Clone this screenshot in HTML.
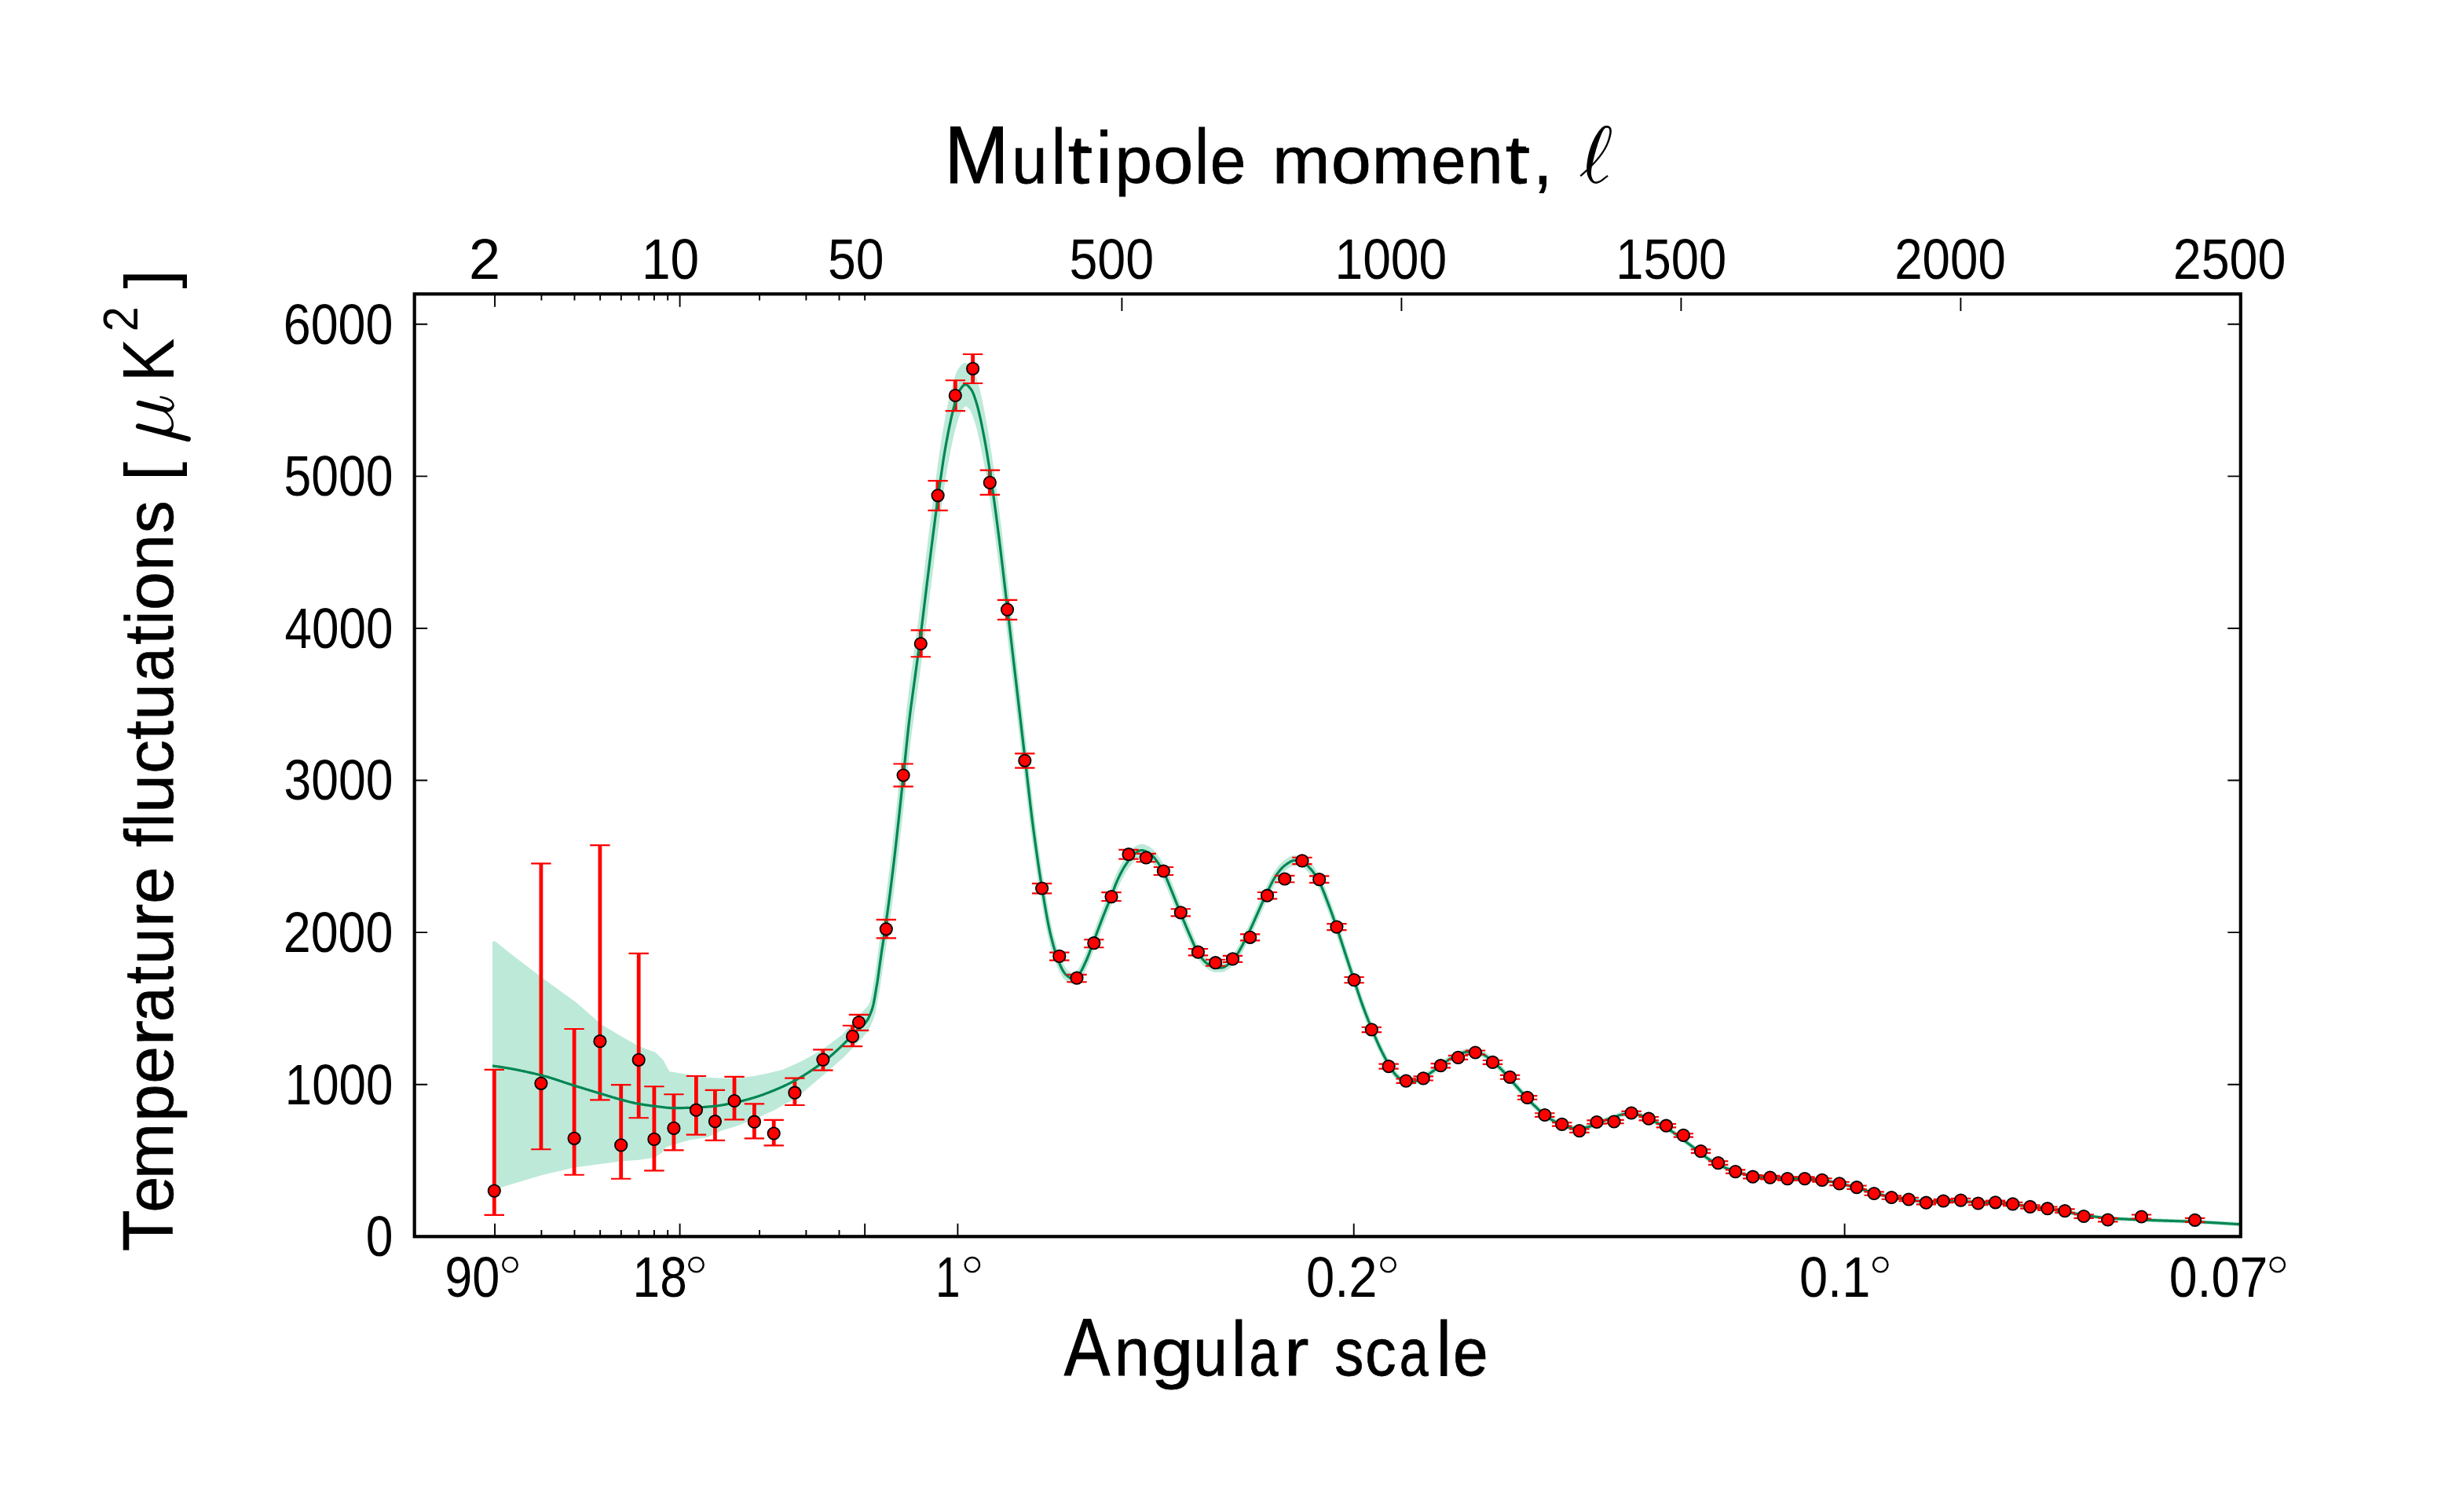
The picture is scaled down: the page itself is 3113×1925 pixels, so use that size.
<!DOCTYPE html>
<html><head><meta charset="utf-8"><title>CMB power spectrum</title>
<style>html,body{margin:0;padding:0;background:#fff}body{width:3113px;height:1925px;overflow:hidden}svg{display:block}text{font-family:"Liberation Sans",sans-serif}</style></head>
<body>
<svg width="3113" height="1925" viewBox="0 0 3113 1925">
<rect width="3113" height="1925" fill="#fff"/>
<defs><clipPath id="pc"><rect x="527.7" y="374.3" width="2325.1" height="1200"/></clipPath></defs>
<g clip-path="url(#pc)">
<path fill="#bde9d9" stroke="#bde9d9" stroke-width="5" stroke-linejoin="round" d="M629.4 1200.7 L647.1 1215 L688.9 1247.1 L731.1 1277.5 L763.9 1306.1 L790.7 1322.1 L813.2 1334.6 L832.9 1341.8 L842 1350.5 L850.7 1366.5 L875.7 1370.4 L900 1374.3 L916 1375.1 L935.4 1375.7 L960.4 1372.5 L977 1369.3 L996.4 1364.5 L1022 1353.2 L1047.9 1338.8 L1073.6 1319.5 L1091.7 1299.3 L1103 1286.5 L1108 1281.27 L1109 1278.66 L1110 1275.68 L1111 1272.26 L1112 1268.11 L1113 1262.8 L1114 1256.96 L1115 1250.45 L1116 1244.22 L1117 1238.28 L1118 1231.31 L1119 1223.4 L1120 1215.83 L1121 1208.36 L1122 1201.15 L1123 1194.2 L1124 1187.6 L1125 1180.86 L1126 1173.9 L1127 1166.82 L1128 1159.68 L1129 1152.54 L1130 1145.33 L1131 1137.95 L1132 1130.3 L1133 1122.36 L1134 1114.26 L1135 1106.07 L1136 1097.81 L1137 1089.5 L1138 1081 L1139 1072.27 L1140 1063.37 L1141 1054.33 L1142 1045.17 L1143 1035.9 L1144 1026.55 L1145 1017.13 L1146 1007.66 L1147 998.15 L1148 988.63 L1149 979.11 L1150 969.61 L1151 960 L1152 950.13 L1153 940.14 L1154 930.16 L1155 920.33 L1156 910.78 L1157 901.63 L1158 893.02 L1159 884.85 L1160 877 L1161 869.39 L1162 861.94 L1163 854.59 L1164 847.25 L1165 839.82 L1166 832.3 L1167 824.85 L1168 817.43 L1169 810 L1170 802.48 L1171 794.83 L1172 786.99 L1173 778.98 L1174 770.84 L1175 762.59 L1176 754.28 L1177 745.92 L1178 737.55 L1179 729.21 L1180 720.92 L1181 712.71 L1182 704.61 L1183 696.51 L1184 688.4 L1185 680.28 L1186 672.18 L1187 664.12 L1188 656.12 L1189 648.2 L1190 640.39 L1191 632.7 L1192 625.15 L1193 617.76 L1194 610.4 L1195 603.03 L1196 595.69 L1197 588.41 L1198 581.24 L1199 574.21 L1200 567.36 L1201 560.72 L1202 554.33 L1203 548.23 L1204 542.46 L1205 536.97 L1206 531.59 L1207 526.33 L1208 521.22 L1209 516.28 L1210 511.51 L1211 506.93 L1212 502.57 L1213 498.44 L1214 494.55 L1215 490.93 L1216 487.52 L1217 484.16 L1218 480.93 L1219 477.92 L1220 475.22 L1221 472.93 L1222 471.14 L1223 469.74 L1224 468.38 L1225 467.14 L1226 466.05 L1227 465.2 L1228 464.65 L1229 464.46 L1230 464.66 L1231 465.19 L1232 465.99 L1233 467.02 L1234 468.23 L1235 469.57 L1236 470.98 L1237 472.47 L1238 474.38 L1239 476.74 L1240 479.46 L1241 482.47 L1242 485.68 L1243 489.01 L1244 492.45 L1245 496.22 L1246 500.33 L1247 504.73 L1248 509.37 L1249 514.22 L1250 519.24 L1251 524.39 L1252 529.62 L1253 534.92 L1254 540.45 L1255 546.22 L1256 552.2 L1257 558.39 L1258 564.73 L1259 571.22 L1260 577.83 L1261 584.54 L1262 591.4 L1263 598.44 L1264 605.66 L1265 613.04 L1266 620.56 L1267 628.2 L1268 635.95 L1269 643.8 L1270 651.72 L1271 659.72 L1272 667.88 L1273 676.18 L1274 684.62 L1275 693.17 L1276 701.81 L1277 710.51 L1278 719.27 L1279 728.06 L1280 736.86 L1281 745.65 L1282 754.42 L1283 763.13 L1284 771.8 L1285 780.5 L1286 789.22 L1287 797.96 L1288 806.71 L1289 815.46 L1290 824.22 L1291 832.97 L1292 841.72 L1293 850.46 L1294 859.2 L1295 867.96 L1296 876.71 L1297 885.47 L1298 894.23 L1299 902.99 L1300 911.74 L1301 920.48 L1302 929.21 L1303 937.92 L1304 946.62 L1305 955.3 L1306 964.02 L1307 972.84 L1308 981.71 L1309 990.6 L1310 999.45 L1311 1008.23 L1312 1016.88 L1313 1025.36 L1314 1033.64 L1315 1041.65 L1316 1049.4 L1317 1057.02 L1318 1064.52 L1319 1071.9 L1320 1079.16 L1321 1086.28 L1322 1093.26 L1323 1100.09 L1324 1106.78 L1325 1113.3 L1326 1119.66 L1327 1125.87 L1328 1132.04 L1329 1138.17 L1330 1144.23 L1331 1150.19 L1332 1156 L1333 1161.64 L1334 1167.08 L1335 1172.28 L1336 1177.2 L1337 1181.81 L1338 1186.08 L1339 1190.13 L1340 1194.06 L1341 1197.85 L1342 1201.5 L1343 1204.99 L1344 1208.31 L1345 1211.47 L1346 1214.43 L1347 1217.21 L1348 1219.77 L1349 1222.13 L1350 1224.39 L1351 1226.58 L1352 1228.66 L1353 1230.62 L1354 1232.4 L1355 1233.98 L1356 1235.34 L1357 1236.42 L1358 1237.33 L1359 1238.22 L1360 1239.05 L1361 1239.81 L1362 1240.46 L1363 1240.98 L1364 1241.33 L1365 1241.5 L1366 1241.45 L1367 1241.19 L1368 1240.75 L1369 1240.17 L1370 1239.46 L1371 1238.67 L1372 1237.81 L1373 1236.93 L1374 1235.93 L1375 1234.65 L1376 1233.12 L1377 1231.38 L1378 1229.46 L1379 1227.41 L1380 1225.27 L1381 1223.07 L1382 1220.86 L1383 1218.68 L1384 1216.42 L1385 1214 L1386 1211.46 L1387 1208.82 L1388 1206.1 L1389 1203.35 L1390 1200.58 L1391 1197.81 L1392 1195.09 L1393 1192.43 L1394 1189.78 L1395 1187.12 L1396 1184.46 L1397 1181.78 L1398 1179.11 L1399 1176.44 L1400 1173.78 L1401 1171.13 L1402 1168.49 L1403 1165.87 L1404 1163.27 L1405 1160.7 L1406 1158.16 L1407 1155.63 L1408 1153.11 L1409 1150.61 L1410 1148.1 L1411 1145.6 L1412 1143.08 L1413 1140.56 L1414 1138.01 L1415 1135.44 L1416 1132.81 L1417 1130.1 L1418 1127.36 L1419 1124.64 L1420 1122 L1421 1119.48 L1422 1117.13 L1423 1114.89 L1424 1112.7 L1425 1110.58 L1426 1108.52 L1427 1106.53 L1428 1104.6 L1429 1102.74 L1430 1100.94 L1431 1099.21 L1432 1097.55 L1433 1095.95 L1434 1094.42 L1435 1092.95 L1436 1091.54 L1437 1090.19 L1438 1088.86 L1439 1087.51 L1440 1086.18 L1441 1084.9 L1442 1083.7 L1443 1082.62 L1444 1081.69 L1445 1080.95 L1446 1080.31 L1447 1079.67 L1448 1079.07 L1449 1078.52 L1450 1078.03 L1451 1077.64 L1452 1077.35 L1453 1077.19 L1454 1077.18 L1455 1077.3 L1456 1077.51 L1457 1077.81 L1458 1078.17 L1459 1078.58 L1460 1079.02 L1461 1079.46 L1462 1079.97 L1463 1080.61 L1464 1081.34 L1465 1082.16 L1466 1083.03 L1467 1083.95 L1468 1084.96 L1469 1086.09 L1470 1087.31 L1471 1088.61 L1472 1089.97 L1473 1091.39 L1474 1092.83 L1475 1094.28 L1476 1095.79 L1477 1097.35 L1478 1098.99 L1479 1100.7 L1480 1102.48 L1481 1104.35 L1482 1106.32 L1483 1108.42 L1484 1110.64 L1485 1112.97 L1486 1115.37 L1487 1117.84 L1488 1120.35 L1489 1122.89 L1490 1125.43 L1491 1127.95 L1492 1130.44 L1493 1132.9 L1494 1135.39 L1495 1137.9 L1496 1140.42 L1497 1142.96 L1498 1145.5 L1499 1148.04 L1500 1150.58 L1501 1153.11 L1502 1155.62 L1503 1158.1 L1504 1160.57 L1505 1163.04 L1506 1165.5 L1507 1167.97 L1508 1170.43 L1509 1172.87 L1510 1175.3 L1511 1177.7 L1512 1180.09 L1513 1182.44 L1514 1184.76 L1515 1187.05 L1516 1189.35 L1517 1191.69 L1518 1194.04 L1519 1196.37 L1520 1198.67 L1521 1200.9 L1522 1203.04 L1523 1205.08 L1524 1206.98 L1525 1208.73 L1526 1210.32 L1527 1211.87 L1528 1213.37 L1529 1214.81 L1530 1216.19 L1531 1217.5 L1532 1218.72 L1533 1219.84 L1534 1220.87 L1535 1221.79 L1536 1222.59 L1537 1223.37 L1538 1224.15 L1539 1224.91 L1540 1225.64 L1541 1226.34 L1542 1226.97 L1543 1227.54 L1544 1228.03 L1545 1228.42 L1546 1228.69 L1547 1228.85 L1548 1228.88 L1549 1228.89 L1550 1228.89 L1551 1228.9 L1552 1228.9 L1553 1228.91 L1554 1228.91 L1555 1228.92 L1556 1228.84 L1557 1228.61 L1558 1228.26 L1559 1227.8 L1560 1227.24 L1561 1226.62 L1562 1225.95 L1563 1225.25 L1564 1224.54 L1565 1223.83 L1566 1223.01 L1567 1222.07 L1568 1221.02 L1569 1219.88 L1570 1218.66 L1571 1217.38 L1572 1216.05 L1573 1214.67 L1574 1213.28 L1575 1211.86 L1576 1210.35 L1577 1208.77 L1578 1207.11 L1579 1205.39 L1580 1203.61 L1581 1201.77 L1582 1199.89 L1583 1197.96 L1584 1195.99 L1585 1193.99 L1586 1191.97 L1587 1189.93 L1588 1187.87 L1589 1185.81 L1590 1183.75 L1591 1181.69 L1592 1179.63 L1593 1177.53 L1594 1175.37 L1595 1173.17 L1596 1170.94 L1597 1168.67 L1598 1166.39 L1599 1164.1 L1600 1161.81 L1601 1159.53 L1602 1157.27 L1603 1155.03 L1604 1152.81 L1605 1150.57 L1606 1148.31 L1607 1146.05 L1608 1143.8 L1609 1141.56 L1610 1139.35 L1611 1137.17 L1612 1135.04 L1613 1132.96 L1614 1130.93 L1615 1128.9 L1616 1126.86 L1617 1124.83 L1618 1122.82 L1619 1120.84 L1620 1118.91 L1621 1117.03 L1622 1115.22 L1623 1113.49 L1624 1111.85 L1625 1110.32 L1626 1108.9 L1627 1107.54 L1628 1106.21 L1629 1104.92 L1630 1103.69 L1631 1102.52 L1632 1101.41 L1633 1100.39 L1634 1099.45 L1635 1098.61 L1636 1097.86 L1637 1097.13 L1638 1096.39 L1639 1095.66 L1640 1094.96 L1641 1094.29 L1642 1093.67 L1643 1093.1 L1644 1092.61 L1645 1092.19 L1646 1091.88 L1647 1091.67 L1648 1091.59 L1649 1091.6 L1650 1091.66 L1651 1091.77 L1652 1091.9 L1653 1092.07 L1654 1092.27 L1655 1092.49 L1656 1092.74 L1657 1093 L1658 1093.27 L1659 1093.65 L1660 1094.18 L1661 1094.85 L1662 1095.63 L1663 1096.51 L1664 1097.48 L1665 1098.51 L1666 1099.59 L1667 1100.71 L1668 1101.84 L1669 1102.97 L1670 1104.12 L1671 1105.37 L1672 1106.7 L1673 1108.11 L1674 1109.6 L1675 1111.16 L1676 1112.79 L1677 1114.48 L1678 1116.24 L1679 1118.05 L1680 1119.93 L1681 1121.93 L1682 1124.08 L1683 1126.34 L1684 1128.72 L1685 1131.18 L1686 1133.72 L1687 1136.32 L1688 1138.96 L1689 1141.62 L1690 1144.29 L1691 1146.95 L1692 1149.59 L1693 1152.27 L1694 1155 L1695 1157.77 L1696 1160.59 L1697 1163.43 L1698 1166.3 L1699 1169.2 L1700 1172.12 L1701 1175.05 L1702 1177.99 L1703 1180.96 L1704 1183.97 L1705 1187.01 L1706 1190.07 L1707 1193.16 L1708 1196.25 L1709 1199.36 L1710 1202.46 L1711 1205.56 L1712 1208.64 L1713 1211.71 L1714 1214.79 L1715 1217.87 L1716 1220.95 L1717 1224.03 L1718 1227.12 L1719 1230.2 L1720 1233.27 L1721 1236.34 L1722 1239.4 L1723 1242.44 L1724 1245.48 L1725 1248.51 L1726 1251.55 L1727 1254.61 L1728 1257.66 L1729 1260.7 L1730 1263.72 L1731 1266.71 L1732 1269.67 L1733 1272.59 L1734 1275.45 L1735 1278.25 L1736 1280.99 L1737 1283.7 L1738 1286.37 L1739 1289 L1740 1291.6 L1741 1294.17 L1742 1296.72 L1743 1299.23 L1744 1301.73 L1745 1304.2 L1746 1306.65 L1747 1309.09 L1748 1311.52 L1749 1313.94 L1750 1316.34 L1751 1318.71 L1752 1321.07 L1753 1323.38 L1754 1325.67 L1755 1327.91 L1756 1330.1 L1757 1332.24 L1758 1334.33 L1759 1336.39 L1760 1338.42 L1761 1340.42 L1762 1342.39 L1763 1344.32 L1764 1346.21 L1765 1348.05 L1766 1349.85 L1767 1351.59 L1768 1353.29 L1769 1354.96 L1770 1356.65 L1771 1358.34 L1772 1360 L1773 1361.6 L1774 1363.14 L1775 1364.57 L1776 1365.89 L1777 1367.06 L1778 1368.07 L1779 1369 L1780 1369.93 L1781 1370.85 L1782 1371.74 L1783 1372.59 L1784 1373.38 L1785 1374.1 L1786 1374.73 L1787 1375.25 L1788 1375.66 L1789 1375.93 L1790 1376.04 L1791 1376.04 L1792 1376.03 L1793 1376.01 L1794 1375.97 L1795 1375.93 L1796 1375.89 L1797 1375.83 L1798 1375.77 L1799 1375.7 L1800 1375.62 L1801 1375.47 L1802 1375.25 L1803 1374.96 L1804 1374.62 L1805 1374.22 L1806 1373.78 L1807 1373.31 L1808 1372.81 L1809 1372.3 L1810 1371.78 L1811 1371.25 L1812 1370.74 L1813 1370.22 L1814 1369.65 L1815 1369.04 L1816 1368.38 L1817 1367.7 L1818 1367 L1819 1366.28 L1820 1365.56 L1821 1364.83 L1822 1364.11 L1823 1363.41 L1824 1362.71 L1825 1362 L1826 1361.29 L1827 1360.57 L1828 1359.85 L1829 1359.13 L1830 1358.4 L1831 1357.67 L1832 1356.94 L1833 1356.21 L1834 1355.49 L1835 1354.76 L1836 1354.02 L1837 1353.26 L1838 1352.5 L1839 1351.73 L1840 1350.97 L1841 1350.22 L1842 1349.49 L1843 1348.78 L1844 1348.1 L1845 1347.45 L1846 1346.83 L1847 1346.23 L1848 1345.63 L1849 1345.05 L1850 1344.48 L1851 1343.93 L1852 1343.39 L1853 1342.88 L1854 1342.4 L1855 1341.94 L1856 1341.52 L1857 1341.11 L1858 1340.7 L1859 1340.27 L1860 1339.85 L1861 1339.43 L1862 1339.04 L1863 1338.67 L1864 1338.35 L1865 1338.09 L1866 1337.88 L1867 1337.75 L1868 1337.71 L1869 1337.71 L1870 1337.71 L1871 1337.71 L1872 1337.71 L1873 1337.72 L1874 1337.72 L1875 1337.72 L1876 1337.72 L1877 1337.72 L1878 1337.72 L1879 1337.74 L1880 1337.85 L1881 1338.05 L1882 1338.33 L1883 1338.67 L1884 1339.06 L1885 1339.5 L1886 1339.97 L1887 1340.47 L1888 1340.97 L1889 1341.47 L1890 1341.97 L1891 1342.52 L1892 1343.15 L1893 1343.83 L1894 1344.56 L1895 1345.34 L1896 1346.15 L1897 1346.98 L1898 1347.82 L1899 1348.67 L1900 1349.51 L1901 1350.35 L1902 1351.2 L1903 1352.07 L1904 1352.97 L1905 1353.88 L1906 1354.81 L1907 1355.75 L1908 1356.72 L1909 1357.7 L1910 1358.69 L1911 1359.7 L1912 1360.73 L1913 1361.79 L1914 1362.88 L1915 1363.99 L1916 1365.12 L1917 1366.26 L1918 1367.42 L1919 1368.58 L1920 1369.73 L1921 1370.88 L1922 1372.03 L1923 1373.16 L1924 1374.29 L1925 1375.42 L1926 1376.55 L1927 1377.69 L1928 1378.82 L1929 1379.96 L1930 1381.09 L1931 1382.22 L1932 1383.36 L1933 1384.49 L1934 1385.62 L1935 1386.76 L1936 1387.9 L1937 1389.05 L1938 1390.2 L1939 1391.35 L1940 1392.49 L1941 1393.62 L1942 1394.74 L1943 1395.84 L1944 1396.92 L1945 1397.99 L1946 1399.03 L1947 1400.07 L1948 1401.09 L1949 1402.11 L1950 1403.11 L1951 1404.1 L1952 1405.09 L1953 1406.06 L1954 1407.03 L1955 1407.99 L1956 1408.95 L1957 1409.91 L1958 1410.87 L1959 1411.84 L1960 1412.8 L1961 1413.75 L1962 1414.69 L1963 1415.6 L1964 1416.5 L1965 1417.36 L1966 1418.18 L1967 1418.96 L1968 1419.71 L1969 1420.44 L1970 1421.15 L1971 1421.84 L1972 1422.51 L1973 1423.16 L1974 1423.79 L1975 1424.41 L1976 1425.01 L1977 1425.6 L1978 1426.17 L1979 1426.73 L1980 1427.28 L1981 1427.82 L1982 1428.35 L1983 1428.87 L1984 1429.37 L1985 1429.86 L1986 1430.32 L1987 1430.77 L1988 1431.21 L1989 1431.62 L1990 1432.03 L1991 1432.45 L1992 1432.87 L1993 1433.28 L1994 1433.67 L1995 1434.04 L1996 1434.37 L1997 1434.66 L1998 1434.9 L1999 1435.08 L2000 1435.21 L2001 1435.33 L2002 1435.45 L2003 1435.56 L2004 1435.66 L2005 1435.76 L2006 1435.84 L2007 1435.91 L2008 1435.96 L2009 1436 L2010 1436.03 L2011 1436.03 L2012 1436 L2013 1435.91 L2014 1435.78 L2015 1435.6 L2016 1435.4 L2017 1435.18 L2018 1434.94 L2019 1434.69 L2020 1434.44 L2021 1434.21 L2022 1433.96 L2023 1433.69 L2024 1433.4 L2025 1433.1 L2026 1432.77 L2027 1432.43 L2028 1432.08 L2029 1431.72 L2030 1431.35 L2031 1430.98 L2032 1430.6 L2033 1430.22 L2034 1429.82 L2035 1429.4 L2036 1428.95 L2037 1428.49 L2038 1428.02 L2039 1427.54 L2040 1427.07 L2041 1426.61 L2042 1426.15 L2043 1425.72 L2044 1425.31 L2045 1424.93 L2046 1424.57 L2047 1424.22 L2048 1423.87 L2049 1423.54 L2050 1423.21 L2051 1422.89 L2052 1422.56 L2053 1422.24 L2054 1421.92 L2055 1421.58 L2056 1421.23 L2057 1420.86 L2058 1420.46 L2059 1420.07 L2060 1419.67 L2061 1419.29 L2062 1418.94 L2063 1418.62 L2064 1418.34 L2065 1418.12 L2066 1417.96 L2067 1417.83 L2068 1417.71 L2069 1417.59 L2070 1417.49 L2071 1417.39 L2072 1417.3 L2073 1417.22 L2074 1417.16 L2075 1417.12 L2076 1417.09 L2077 1417.08 L2078 1417.1 L2079 1417.17 L2080 1417.28 L2081 1417.43 L2082 1417.61 L2083 1417.82 L2084 1418.05 L2085 1418.28 L2086 1418.53 L2087 1418.77 L2088 1419.02 L2089 1419.29 L2090 1419.61 L2091 1419.95 L2092 1420.33 L2093 1420.72 L2094 1421.14 L2095 1421.56 L2096 1422 L2097 1422.45 L2098 1422.89 L2099 1423.33 L2100 1423.78 L2101 1424.24 L2102 1424.72 L2103 1425.21 L2104 1425.71 L2105 1426.22 L2106 1426.74 L2107 1427.27 L2108 1427.8 L2109 1428.33 L2110 1428.86 L2111 1429.39 L2112 1429.92 L2113 1430.45 L2114 1430.99 L2115 1431.54 L2116 1432.09 L2117 1432.65 L2118 1433.21 L2119 1433.78 L2120 1434.36 L2121 1434.96 L2122 1435.56 L2123 1436.17 L2124 1436.79 L2125 1437.42 L2126 1438.06 L2127 1438.71 L2128 1439.37 L2129 1440.04 L2130 1440.71 L2131 1441.4 L2132 1442.09 L2133 1442.79 L2134 1443.51 L2135 1444.24 L2136 1444.99 L2137 1445.75 L2138 1446.51 L2139 1447.28 L2140 1448.06 L2141 1448.83 L2142 1449.59 L2143 1450.36 L2144 1451.11 L2145 1451.86 L2146 1452.61 L2147 1453.36 L2148 1454.11 L2149 1454.85 L2150 1455.61 L2151 1456.36 L2152 1457.12 L2153 1457.88 L2154 1458.65 L2155 1459.43 L2156 1460.22 L2157 1461.01 L2158 1461.82 L2159 1462.62 L2160 1463.43 L2161 1464.23 L2162 1465.04 L2163 1465.83 L2164 1466.62 L2165 1467.39 L2166 1468.16 L2167 1468.93 L2168 1469.69 L2169 1470.46 L2170 1471.22 L2171 1471.97 L2172 1472.72 L2173 1473.45 L2174 1474.16 L2175 1474.86 L2176 1475.53 L2177 1476.18 L2178 1476.81 L2179 1477.44 L2180 1478.05 L2181 1478.65 L2182 1479.23 L2183 1479.8 L2184 1480.36 L2185 1480.91 L2186 1481.44 L2187 1481.95 L2188 1482.45 L2189 1482.94 L2190 1483.42 L2191 1483.88 L2192 1484.33 L2193 1484.78 L2194 1485.21 L2195 1485.64 L2196 1486.06 L2197 1486.47 L2198 1486.88 L2199 1487.29 L2200 1487.69 L2201 1488.08 L2202 1488.47 L2203 1488.86 L2204 1489.25 L2205 1489.62 L2206 1489.99 L2207 1490.34 L2208 1490.68 L2209 1491.01 L2210 1491.33 L2211 1491.65 L2212 1491.96 L2213 1492.28 L2214 1492.6 L2215 1492.91 L2216 1493.22 L2217 1493.53 L2218 1493.84 L2219 1494.13 L2220 1494.43 L2221 1494.71 L2222 1494.99 L2223 1495.25 L2224 1495.51 L2225 1495.76 L2226 1495.99 L2227 1496.21 L2228 1496.42 L2229 1496.61 L2230 1496.78 L2231 1496.94 L2232 1497.08 L2233 1497.21 L2234 1497.34 L2235 1497.46 L2236 1497.58 L2237 1497.69 L2238 1497.8 L2239 1497.9 L2240 1498 L2241 1498.1 L2242 1498.19 L2243 1498.28 L2244 1498.36 L2245 1498.45 L2246 1498.52 L2247 1498.6 L2248 1498.67 L2249 1498.75 L2250 1498.82 L2251 1498.88 L2252 1498.95 L2253 1499.01 L2254 1499.07 L2255 1499.13 L2256 1499.19 L2257 1499.25 L2258 1499.3 L2259 1499.36 L2260 1499.41 L2261 1499.46 L2262 1499.51 L2263 1499.56 L2264 1499.61 L2265 1499.65 L2266 1499.7 L2267 1499.74 L2268 1499.78 L2269 1499.82 L2270 1499.86 L2271 1499.9 L2272 1499.94 L2273 1499.97 L2274 1500 L2275 1500.04 L2276 1500.07 L2277 1500.1 L2278 1500.12 L2279 1500.15 L2280 1500.17 L2281 1500.19 L2282 1500.21 L2283 1500.23 L2284 1500.25 L2285 1500.27 L2286 1500.29 L2287 1500.31 L2288 1500.32 L2289 1500.34 L2290 1500.36 L2291 1500.38 L2292 1500.41 L2293 1500.43 L2294 1500.45 L2295 1500.48 L2296 1500.51 L2297 1500.54 L2298 1500.58 L2299 1500.62 L2300 1500.66 L2301 1500.71 L2302 1500.76 L2303 1500.82 L2304 1500.88 L2305 1500.94 L2306 1501.01 L2307 1501.08 L2308 1501.16 L2309 1501.24 L2310 1501.32 L2311 1501.4 L2312 1501.49 L2313 1501.58 L2314 1501.68 L2315 1501.77 L2316 1501.87 L2317 1501.97 L2318 1502.08 L2319 1502.18 L2320 1502.29 L2321 1502.41 L2322 1502.53 L2323 1502.67 L2324 1502.81 L2325 1502.96 L2326 1503.12 L2327 1503.29 L2328 1503.46 L2329 1503.64 L2330 1503.82 L2331 1504.01 L2332 1504.21 L2333 1504.41 L2334 1504.61 L2335 1504.82 L2336 1505.03 L2337 1505.24 L2338 1505.45 L2339 1505.66 L2340 1505.88 L2341 1506.09 L2342 1506.3 L2343 1506.52 L2344 1506.74 L2345 1506.97 L2346 1507.2 L2347 1507.44 L2348 1507.68 L2349 1507.92 L2350 1508.17 L2351 1508.43 L2352 1508.68 L2353 1508.94 L2354 1509.21 L2355 1509.47 L2356 1509.74 L2357 1510.01 L2358 1510.28 L2359 1510.55 L2360 1510.83 L2361 1511.1 L2362 1511.38 L2363 1511.66 L2364 1511.93 L2365 1512.21 L2366 1512.5 L2367 1512.79 L2368 1513.09 L2369 1513.39 L2370 1513.7 L2371 1514.01 L2372 1514.32 L2373 1514.64 L2374 1514.95 L2375 1515.27 L2376 1515.58 L2377 1515.89 L2378 1516.21 L2379 1516.51 L2380 1516.82 L2381 1517.12 L2382 1517.42 L2383 1517.71 L2384 1517.99 L2385 1518.27 L2386 1518.54 L2387 1518.8 L2388 1519.06 L2389 1519.32 L2390 1519.58 L2391 1519.84 L2392 1520.1 L2393 1520.35 L2394 1520.6 L2395 1520.85 L2396 1521.1 L2397 1521.34 L2398 1521.58 L2399 1521.81 L2400 1522.05 L2401 1522.27 L2402 1522.5 L2403 1522.72 L2404 1522.93 L2405 1523.14 L2406 1523.34 L2407 1523.54 L2408 1523.73 L2409 1523.92 L2410 1524.1 L2411 1524.29 L2412 1524.46 L2413 1524.64 L2414 1524.81 L2415 1524.98 L2416 1525.15 L2417 1525.32 L2418 1525.48 L2419 1525.64 L2420 1525.79 L2421 1525.95 L2422 1526.1 L2423 1526.24 L2424 1526.39 L2425 1526.53 L2426 1526.66 L2427 1526.8 L2428 1526.93 L2429 1527.06 L2430 1527.18 L2431 1527.3 L2432 1527.43 L2433 1527.56 L2434 1527.69 L2435 1527.83 L2436 1527.96 L2437 1528.1 L2438 1528.23 L2439 1528.36 L2440 1528.49 L2441 1528.61 L2442 1528.73 L2443 1528.84 L2444 1528.95 L2445 1529.04 L2446 1529.13 L2447 1529.21 L2448 1529.28 L2449 1529.33 L2450 1529.37 L2451 1529.4 L2452 1529.42 L2453 1529.42 L2454 1529.42 L2455 1529.42 L2456 1529.42 L2457 1529.42 L2458 1529.42 L2459 1529.42 L2460 1529.42 L2461 1529.42 L2462 1529.42 L2463 1529.42 L2464 1529.42 L2465 1529.42 L2466 1529.42 L2467 1529.42 L2468 1529.42 L2469 1529.42 L2470 1529.42 L2471 1529.42 L2472 1529.42 L2473 1529.42 L2474 1529.42 L2475 1529.42 L2476 1529.42 L2477 1529.42 L2478 1529.42 L2479 1529.42 L2480 1529.42 L2481 1529.42 L2482 1529.42 L2483 1529.42 L2484 1529.42 L2485 1529.42 L2486 1529.42 L2487 1529.42 L2488 1529.42 L2489 1529.42 L2490 1529.42 L2491 1529.42 L2492 1529.42 L2493 1529.42 L2494 1529.42 L2495 1529.42 L2496 1529.42 L2497 1529.42 L2498 1529.43 L2499 1529.45 L2500 1529.48 L2501 1529.52 L2502 1529.56 L2503 1529.61 L2504 1529.67 L2505 1529.73 L2506 1529.8 L2507 1529.86 L2508 1529.94 L2509 1530.01 L2510 1530.08 L2511 1530.15 L2512 1530.23 L2513 1530.3 L2514 1530.37 L2515 1530.43 L2516 1530.49 L2517 1530.55 L2518 1530.6 L2519 1530.64 L2520 1530.69 L2521 1530.73 L2522 1530.76 L2523 1530.8 L2524 1530.83 L2525 1530.87 L2526 1530.9 L2527 1530.93 L2528 1530.96 L2529 1530.99 L2530 1531.02 L2531 1531.06 L2532 1531.09 L2533 1531.12 L2534 1531.16 L2535 1531.19 L2536 1531.23 L2537 1531.27 L2538 1531.31 L2539 1531.35 L2540 1531.4 L2541 1531.45 L2542 1531.51 L2543 1531.56 L2544 1531.63 L2545 1531.69 L2546 1531.76 L2547 1531.83 L2548 1531.91 L2549 1531.98 L2550 1532.06 L2551 1532.15 L2552 1532.23 L2553 1532.32 L2554 1532.41 L2555 1532.5 L2556 1532.59 L2557 1532.68 L2558 1532.78 L2559 1532.88 L2560 1532.97 L2561 1533.07 L2562 1533.17 L2563 1533.27 L2564 1533.37 L2565 1533.48 L2566 1533.59 L2567 1533.71 L2568 1533.83 L2569 1533.95 L2570 1534.08 L2571 1534.21 L2572 1534.34 L2573 1534.47 L2574 1534.6 L2575 1534.74 L2576 1534.87 L2577 1535.01 L2578 1535.15 L2579 1535.28 L2580 1535.42 L2581 1535.55 L2582 1535.69 L2583 1535.82 L2584 1535.95 L2585 1536.08 L2586 1536.2 L2587 1536.33 L2588 1536.45 L2589 1536.58 L2590 1536.7 L2591 1536.82 L2592 1536.94 L2593 1537.07 L2594 1537.19 L2595 1537.31 L2596 1537.43 L2597 1537.56 L2598 1537.68 L2599 1537.81 L2600 1537.93 L2601 1538.06 L2602 1538.19 L2603 1538.33 L2604 1538.46 L2605 1538.6 L2606 1538.74 L2607 1538.88 L2608 1539.02 L2609 1539.17 L2610 1539.32 L2611 1539.47 L2612 1539.63 L2613 1539.79 L2614 1539.94 L2615 1540.11 L2616 1540.27 L2617 1540.43 L2618 1540.6 L2619 1540.77 L2620 1540.93 L2621 1541.1 L2622 1541.27 L2623 1541.44 L2624 1541.62 L2625 1541.79 L2626 1541.96 L2627 1542.13 L2628 1542.31 L2629 1542.48 L2630 1542.65 L2631 1542.83 L2632 1543.02 L2633 1543.2 L2634 1543.39 L2635 1543.58 L2636 1543.77 L2637 1543.97 L2638 1544.16 L2639 1544.36 L2640 1544.55 L2641 1544.75 L2642 1544.94 L2643 1545.13 L2644 1545.32 L2645 1545.51 L2646 1545.7 L2647 1545.88 L2648 1546.06 L2649 1546.23 L2650 1546.4 L2651 1546.57 L2652 1546.73 L2653 1546.88 L2654 1547.03 L2655 1547.18 L2656 1547.33 L2657 1547.48 L2658 1547.63 L2659 1547.77 L2660 1547.92 L2661 1548.07 L2662 1548.21 L2663 1548.35 L2664 1548.49 L2665 1548.63 L2666 1548.77 L2667 1548.9 L2668 1549.04 L2669 1549.17 L2670 1549.3 L2671 1549.42 L2672 1549.54 L2673 1549.66 L2674 1549.78 L2675 1549.89 L2676 1550 L2677 1550.11 L2678 1550.21 L2679 1550.31 L2680 1550.4 L2681 1550.49 L2682 1550.58 L2683 1550.66 L2684 1550.73 L2685 1550.81 L2686 1550.88 L2687 1550.95 L2688 1551.02 L2689 1551.08 L2690 1551.15 L2691 1551.21 L2692 1551.28 L2693 1551.34 L2694 1551.4 L2695 1551.45 L2696 1551.51 L2697 1551.57 L2698 1551.62 L2699 1551.68 L2700 1551.73 L2701 1551.78 L2702 1551.83 L2703 1551.88 L2704 1551.93 L2705 1551.98 L2706 1552.03 L2707 1552.07 L2708 1552.12 L2709 1552.16 L2710 1552.21 L2711 1552.25 L2712 1552.3 L2713 1552.34 L2714 1552.39 L2715 1552.43 L2716 1552.47 L2717 1552.51 L2718 1552.56 L2719 1552.6 L2720 1552.64 L2721 1552.69 L2722 1552.73 L2723 1552.77 L2724 1552.81 L2725 1552.86 L2726 1552.9 L2727 1552.94 L2728 1552.99 L2729 1553.03 L2730 1553.07 L2731 1553.11 L2732 1553.15 L2733 1553.19 L2734 1553.23 L2735 1553.27 L2736 1553.31 L2737 1553.35 L2738 1553.39 L2739 1553.42 L2740 1553.46 L2741 1553.5 L2742 1553.53 L2743 1553.57 L2744 1553.6 L2745 1553.64 L2746 1553.67 L2747 1553.71 L2748 1553.74 L2749 1553.78 L2750 1553.81 L2751 1553.85 L2752 1553.88 L2753 1553.91 L2754 1553.95 L2755 1553.98 L2756 1554.01 L2757 1554.05 L2758 1554.08 L2759 1554.11 L2760 1554.15 L2761 1554.18 L2762 1554.21 L2763 1554.24 L2764 1554.28 L2765 1554.31 L2766 1554.35 L2767 1554.38 L2768 1554.41 L2769 1554.45 L2770 1554.48 L2771 1554.51 L2772 1554.55 L2773 1554.58 L2774 1554.62 L2775 1554.65 L2776 1554.69 L2777 1554.73 L2778 1554.76 L2779 1554.8 L2780 1554.84 L2781 1554.87 L2782 1554.91 L2783 1554.95 L2784 1554.99 L2785 1555.03 L2786 1555.07 L2787 1555.11 L2788 1555.15 L2789 1555.19 L2790 1555.23 L2791 1555.27 L2792 1555.32 L2793 1555.36 L2794 1555.4 L2795 1555.45 L2796 1555.5 L2797 1555.54 L2798 1555.59 L2799 1555.63 L2800 1555.68 L2801 1555.73 L2802 1555.78 L2803 1555.83 L2804 1555.88 L2805 1555.93 L2806 1555.98 L2807 1556.03 L2808 1556.08 L2809 1556.13 L2810 1556.18 L2811 1556.24 L2812 1556.29 L2813 1556.34 L2814 1556.4 L2815 1556.45 L2816 1556.51 L2817 1556.56 L2818 1556.62 L2819 1556.67 L2820 1556.73 L2821 1556.79 L2822 1556.84 L2823 1556.9 L2824 1556.96 L2825 1557.02 L2826 1557.08 L2827 1557.14 L2828 1557.19 L2829 1557.25 L2830 1557.31 L2831 1557.37 L2832 1557.44 L2833 1557.5 L2834 1557.56 L2835 1557.62 L2836 1557.68 L2837 1557.74 L2838 1557.81 L2839 1557.87 L2840 1557.93 L2841 1558 L2842 1558.06 L2843 1558.12 L2844 1558.19 L2845 1558.25 L2846 1558.32 L2847 1558.38 L2848 1558.45 L2849 1558.51 L2850 1558.58 L2851 1558.64 L2851 1558.76 L2850 1558.69 L2849 1558.63 L2848 1558.56 L2847 1558.5 L2846 1558.43 L2845 1558.37 L2844 1558.3 L2843 1558.24 L2842 1558.18 L2841 1558.11 L2840 1558.05 L2839 1557.99 L2838 1557.92 L2837 1557.86 L2836 1557.8 L2835 1557.74 L2834 1557.68 L2833 1557.62 L2832 1557.56 L2831 1557.5 L2830 1557.44 L2829 1557.38 L2828 1557.32 L2827 1557.26 L2826 1557.2 L2825 1557.14 L2824 1557.08 L2823 1557.03 L2822 1556.97 L2821 1556.91 L2820 1556.86 L2819 1556.8 L2818 1556.74 L2817 1556.69 L2816 1556.63 L2815 1556.58 L2814 1556.53 L2813 1556.47 L2812 1556.42 L2811 1556.37 L2810 1556.31 L2809 1556.26 L2808 1556.21 L2807 1556.16 L2806 1556.11 L2805 1556.06 L2804 1556.01 L2803 1555.96 L2802 1555.91 L2801 1555.86 L2800 1555.82 L2799 1555.77 L2798 1555.72 L2797 1555.68 L2796 1555.63 L2795 1555.59 L2794 1555.54 L2793 1555.5 L2792 1555.45 L2791 1555.41 L2790 1555.37 L2789 1555.33 L2788 1555.29 L2787 1555.25 L2786 1555.21 L2785 1555.17 L2784 1555.13 L2783 1555.09 L2782 1555.05 L2781 1555.01 L2780 1554.98 L2779 1554.94 L2778 1554.9 L2777 1554.87 L2776 1554.83 L2775 1554.8 L2774 1554.76 L2773 1554.73 L2772 1554.69 L2771 1554.66 L2770 1554.63 L2769 1554.59 L2768 1554.56 L2767 1554.52 L2766 1554.49 L2765 1554.46 L2764 1554.42 L2763 1554.39 L2762 1554.36 L2761 1554.33 L2760 1554.29 L2759 1554.26 L2758 1554.23 L2757 1554.19 L2756 1554.16 L2755 1554.13 L2754 1554.1 L2753 1554.06 L2752 1554.03 L2751 1554 L2750 1553.96 L2749 1553.93 L2748 1553.89 L2747 1553.86 L2746 1553.83 L2745 1553.79 L2744 1553.76 L2743 1553.72 L2742 1553.68 L2741 1553.65 L2740 1553.61 L2739 1553.58 L2738 1553.54 L2737 1553.5 L2736 1553.46 L2735 1553.43 L2734 1553.39 L2733 1553.35 L2732 1553.31 L2731 1553.27 L2730 1553.23 L2729 1553.19 L2728 1553.14 L2727 1553.1 L2726 1553.06 L2725 1553.01 L2724 1552.97 L2723 1552.93 L2722 1552.89 L2721 1552.84 L2720 1552.8 L2719 1552.76 L2718 1552.72 L2717 1552.68 L2716 1552.63 L2715 1552.59 L2714 1552.55 L2713 1552.51 L2712 1552.46 L2711 1552.42 L2710 1552.37 L2709 1552.33 L2708 1552.28 L2707 1552.24 L2706 1552.19 L2705 1552.14 L2704 1552.1 L2703 1552.05 L2702 1552 L2701 1551.95 L2700 1551.9 L2699 1551.84 L2698 1551.79 L2697 1551.74 L2696 1551.68 L2695 1551.62 L2694 1551.57 L2693 1551.51 L2692 1551.45 L2691 1551.39 L2690 1551.32 L2689 1551.26 L2688 1551.19 L2687 1551.12 L2686 1551.05 L2685 1550.98 L2684 1550.91 L2683 1550.84 L2682 1550.76 L2681 1550.67 L2680 1550.58 L2679 1550.49 L2678 1550.39 L2677 1550.29 L2676 1550.19 L2675 1550.08 L2674 1549.96 L2673 1549.85 L2672 1549.73 L2671 1549.61 L2670 1549.48 L2669 1549.36 L2668 1549.23 L2667 1549.1 L2666 1548.96 L2665 1548.83 L2664 1548.69 L2663 1548.55 L2662 1548.41 L2661 1548.26 L2660 1548.12 L2659 1547.97 L2658 1547.83 L2657 1547.68 L2656 1547.53 L2655 1547.39 L2654 1547.24 L2653 1547.09 L2652 1546.94 L2651 1546.78 L2650 1546.62 L2649 1546.45 L2648 1546.27 L2647 1546.1 L2646 1545.92 L2645 1545.73 L2644 1545.54 L2643 1545.36 L2642 1545.16 L2641 1544.97 L2640 1544.78 L2639 1544.58 L2638 1544.39 L2637 1544.2 L2636 1544.01 L2635 1543.81 L2634 1543.62 L2633 1543.44 L2632 1543.25 L2631 1543.07 L2630 1542.89 L2629 1542.72 L2628 1542.55 L2627 1542.38 L2626 1542.21 L2625 1542.04 L2624 1541.87 L2623 1541.69 L2622 1541.53 L2621 1541.36 L2620 1541.19 L2619 1541.02 L2618 1540.86 L2617 1540.69 L2616 1540.53 L2615 1540.37 L2614 1540.21 L2613 1540.05 L2612 1539.89 L2611 1539.74 L2610 1539.59 L2609 1539.44 L2608 1539.29 L2607 1539.15 L2606 1539.01 L2605 1538.87 L2604 1538.74 L2603 1538.6 L2602 1538.47 L2601 1538.34 L2600 1538.21 L2599 1538.09 L2598 1537.96 L2597 1537.84 L2596 1537.72 L2595 1537.59 L2594 1537.47 L2593 1537.35 L2592 1537.23 L2591 1537.11 L2590 1536.99 L2589 1536.87 L2588 1536.75 L2587 1536.62 L2586 1536.5 L2585 1536.37 L2584 1536.25 L2583 1536.12 L2582 1535.99 L2581 1535.85 L2580 1535.72 L2579 1535.59 L2578 1535.45 L2577 1535.31 L2576 1535.18 L2575 1535.05 L2574 1534.91 L2573 1534.78 L2572 1534.65 L2571 1534.52 L2570 1534.39 L2569 1534.27 L2568 1534.14 L2567 1534.03 L2566 1533.91 L2565 1533.8 L2564 1533.69 L2563 1533.59 L2562 1533.49 L2561 1533.39 L2560 1533.3 L2559 1533.2 L2558 1533.1 L2557 1533.01 L2556 1532.92 L2555 1532.82 L2554 1532.73 L2553 1532.65 L2552 1532.56 L2551 1532.48 L2550 1532.39 L2549 1532.31 L2548 1532.24 L2547 1532.16 L2546 1532.09 L2545 1532.02 L2544 1531.96 L2543 1531.9 L2542 1531.84 L2541 1531.79 L2540 1531.74 L2539 1531.69 L2538 1531.65 L2537 1531.61 L2536 1531.57 L2535 1531.53 L2534 1531.49 L2533 1531.46 L2532 1531.43 L2531 1531.4 L2530 1531.36 L2529 1531.33 L2528 1531.3 L2527 1531.27 L2526 1531.24 L2525 1531.21 L2524 1531.18 L2523 1531.14 L2522 1531.11 L2521 1531.07 L2520 1531.03 L2519 1530.99 L2518 1530.95 L2517 1530.9 L2516 1530.84 L2515 1530.78 L2514 1530.71 L2513 1530.65 L2512 1530.58 L2511 1530.5 L2510 1530.43 L2509 1530.36 L2508 1530.29 L2507 1530.22 L2506 1530.15 L2505 1530.09 L2504 1530.02 L2503 1529.97 L2502 1529.92 L2501 1529.88 L2500 1529.84 L2499 1529.81 L2498 1529.79 L2497 1529.78 L2496 1529.78 L2495 1529.78 L2494 1529.78 L2493 1529.78 L2492 1529.78 L2491 1529.78 L2490 1529.78 L2489 1529.78 L2488 1529.78 L2487 1529.78 L2486 1529.78 L2485 1529.78 L2484 1529.78 L2483 1529.78 L2482 1529.78 L2481 1529.78 L2480 1529.78 L2479 1529.78 L2478 1529.78 L2477 1529.78 L2476 1529.78 L2475 1529.78 L2474 1529.78 L2473 1529.78 L2472 1529.78 L2471 1529.78 L2470 1529.78 L2469 1529.78 L2468 1529.78 L2467 1529.78 L2466 1529.78 L2465 1529.78 L2464 1529.78 L2463 1529.78 L2462 1529.78 L2461 1529.78 L2460 1529.78 L2459 1529.78 L2458 1529.78 L2457 1529.78 L2456 1529.78 L2455 1529.78 L2454 1529.78 L2453 1529.78 L2452 1529.78 L2451 1529.77 L2450 1529.74 L2449 1529.7 L2448 1529.64 L2447 1529.58 L2446 1529.5 L2445 1529.41 L2444 1529.32 L2443 1529.22 L2442 1529.1 L2441 1528.99 L2440 1528.87 L2439 1528.74 L2438 1528.61 L2437 1528.48 L2436 1528.35 L2435 1528.21 L2434 1528.08 L2433 1527.95 L2432 1527.82 L2431 1527.69 L2430 1527.57 L2429 1527.45 L2428 1527.32 L2427 1527.19 L2426 1527.06 L2425 1526.92 L2424 1526.78 L2423 1526.64 L2422 1526.5 L2421 1526.35 L2420 1526.2 L2419 1526.04 L2418 1525.89 L2417 1525.73 L2416 1525.56 L2415 1525.4 L2414 1525.23 L2413 1525.06 L2412 1524.88 L2411 1524.7 L2410 1524.52 L2409 1524.34 L2408 1524.16 L2407 1523.97 L2406 1523.77 L2405 1523.57 L2404 1523.36 L2403 1523.15 L2402 1522.93 L2401 1522.71 L2400 1522.49 L2399 1522.26 L2398 1522.02 L2397 1521.79 L2396 1521.55 L2395 1521.3 L2394 1521.06 L2393 1520.81 L2392 1520.56 L2391 1520.3 L2390 1520.05 L2389 1519.79 L2388 1519.53 L2387 1519.27 L2386 1519.01 L2385 1518.74 L2384 1518.47 L2383 1518.19 L2382 1517.9 L2381 1517.61 L2380 1517.31 L2379 1517.01 L2378 1516.7 L2377 1516.39 L2376 1516.08 L2375 1515.77 L2374 1515.46 L2373 1515.15 L2372 1514.84 L2371 1514.53 L2370 1514.22 L2369 1513.91 L2368 1513.61 L2367 1513.32 L2366 1513.03 L2365 1512.75 L2364 1512.47 L2363 1512.19 L2362 1511.92 L2361 1511.65 L2360 1511.38 L2359 1511.1 L2358 1510.83 L2357 1510.56 L2356 1510.3 L2355 1510.03 L2354 1509.77 L2353 1509.51 L2352 1509.25 L2351 1509 L2350 1508.75 L2349 1508.5 L2348 1508.26 L2347 1508.02 L2346 1507.78 L2345 1507.55 L2344 1507.33 L2343 1507.11 L2342 1506.9 L2341 1506.69 L2340 1506.47 L2339 1506.26 L2338 1506.05 L2337 1505.84 L2336 1505.63 L2335 1505.43 L2334 1505.22 L2333 1505.02 L2332 1504.83 L2331 1504.63 L2330 1504.44 L2329 1504.26 L2328 1504.08 L2327 1503.91 L2326 1503.75 L2325 1503.59 L2324 1503.44 L2323 1503.3 L2322 1503.17 L2321 1503.04 L2320 1502.93 L2319 1502.82 L2318 1502.72 L2317 1502.62 L2316 1502.52 L2315 1502.42 L2314 1502.32 L2313 1502.23 L2312 1502.14 L2311 1502.05 L2310 1501.97 L2309 1501.89 L2308 1501.81 L2307 1501.73 L2306 1501.66 L2305 1501.6 L2304 1501.53 L2303 1501.47 L2302 1501.42 L2301 1501.37 L2300 1501.32 L2299 1501.28 L2298 1501.24 L2297 1501.2 L2296 1501.17 L2295 1501.14 L2294 1501.12 L2293 1501.09 L2292 1501.07 L2291 1501.05 L2290 1501.03 L2289 1501.01 L2288 1500.99 L2287 1500.97 L2286 1500.96 L2285 1500.94 L2284 1500.92 L2283 1500.9 L2282 1500.89 L2281 1500.87 L2280 1500.84 L2279 1500.82 L2278 1500.8 L2277 1500.77 L2276 1500.74 L2275 1500.71 L2274 1500.68 L2273 1500.65 L2272 1500.61 L2271 1500.58 L2270 1500.54 L2269 1500.5 L2268 1500.46 L2267 1500.42 L2266 1500.38 L2265 1500.34 L2264 1500.29 L2263 1500.25 L2262 1500.2 L2261 1500.15 L2260 1500.1 L2259 1500.05 L2258 1499.99 L2257 1499.94 L2256 1499.88 L2255 1499.82 L2254 1499.77 L2253 1499.71 L2252 1499.64 L2251 1499.58 L2250 1499.51 L2249 1499.45 L2248 1499.38 L2247 1499.3 L2246 1499.23 L2245 1499.15 L2244 1499.07 L2243 1498.98 L2242 1498.9 L2241 1498.81 L2240 1498.71 L2239 1498.61 L2238 1498.51 L2237 1498.4 L2236 1498.29 L2235 1498.18 L2234 1498.06 L2233 1497.93 L2232 1497.8 L2231 1497.66 L2230 1497.51 L2229 1497.34 L2228 1497.15 L2227 1496.94 L2226 1496.73 L2225 1496.5 L2224 1496.25 L2223 1496 L2222 1495.74 L2221 1495.46 L2220 1495.18 L2219 1494.89 L2218 1494.6 L2217 1494.3 L2216 1493.99 L2215 1493.68 L2214 1493.37 L2213 1493.06 L2212 1492.74 L2211 1492.43 L2210 1492.12 L2209 1491.81 L2208 1491.48 L2207 1491.14 L2206 1490.79 L2205 1490.43 L2204 1490.06 L2203 1489.68 L2202 1489.3 L2201 1488.91 L2200 1488.51 L2199 1488.12 L2198 1487.72 L2197 1487.32 L2196 1486.91 L2195 1486.49 L2194 1486.07 L2193 1485.64 L2192 1485.2 L2191 1484.75 L2190 1484.29 L2189 1483.82 L2188 1483.34 L2187 1482.85 L2186 1482.34 L2185 1481.81 L2184 1481.27 L2183 1480.72 L2182 1480.15 L2181 1479.57 L2180 1478.98 L2179 1478.38 L2178 1477.76 L2177 1477.13 L2176 1476.49 L2175 1475.83 L2174 1475.14 L2173 1474.43 L2172 1473.71 L2171 1472.97 L2170 1472.23 L2169 1471.48 L2168 1470.72 L2167 1469.96 L2166 1469.2 L2165 1468.44 L2164 1467.68 L2163 1466.9 L2162 1466.11 L2161 1465.32 L2160 1464.52 L2159 1463.72 L2158 1462.93 L2157 1462.13 L2156 1461.35 L2155 1460.57 L2154 1459.8 L2153 1459.03 L2152 1458.28 L2151 1457.53 L2150 1456.78 L2149 1456.04 L2148 1455.3 L2147 1454.56 L2146 1453.82 L2145 1453.08 L2144 1452.34 L2143 1451.59 L2142 1450.84 L2141 1450.08 L2140 1449.32 L2139 1448.55 L2138 1447.79 L2137 1447.04 L2136 1446.29 L2135 1445.55 L2134 1444.82 L2133 1444.11 L2132 1443.42 L2131 1442.73 L2130 1442.06 L2129 1441.39 L2128 1440.73 L2127 1440.08 L2126 1439.44 L2125 1438.81 L2124 1438.18 L2123 1437.57 L2122 1436.96 L2121 1436.37 L2120 1435.78 L2119 1435.21 L2118 1434.64 L2117 1434.09 L2116 1433.54 L2115 1432.99 L2114 1432.45 L2113 1431.92 L2112 1431.39 L2111 1430.87 L2110 1430.34 L2109 1429.82 L2108 1429.3 L2107 1428.78 L2106 1428.26 L2105 1427.74 L2104 1427.24 L2103 1426.74 L2102 1426.26 L2101 1425.79 L2100 1425.33 L2099 1424.89 L2098 1424.45 L2097 1424.01 L2096 1423.58 L2095 1423.14 L2094 1422.72 L2093 1422.31 L2092 1421.92 L2091 1421.56 L2090 1421.22 L2089 1420.91 L2088 1420.63 L2087 1420.39 L2086 1420.15 L2085 1419.91 L2084 1419.68 L2083 1419.45 L2082 1419.25 L2081 1419.07 L2080 1418.93 L2079 1418.81 L2078 1418.75 L2077 1418.73 L2076 1418.74 L2075 1418.77 L2074 1418.81 L2073 1418.88 L2072 1418.95 L2071 1419.04 L2070 1419.14 L2069 1419.25 L2068 1419.36 L2067 1419.49 L2066 1419.61 L2065 1419.77 L2064 1419.99 L2063 1420.27 L2062 1420.59 L2061 1420.94 L2060 1421.32 L2059 1421.71 L2058 1422.1 L2057 1422.49 L2056 1422.87 L2055 1423.22 L2054 1423.54 L2053 1423.87 L2052 1424.19 L2051 1424.51 L2050 1424.83 L2049 1425.16 L2048 1425.49 L2047 1425.83 L2046 1426.18 L2045 1426.54 L2044 1426.92 L2043 1427.32 L2042 1427.75 L2041 1428.2 L2040 1428.66 L2039 1429.13 L2038 1429.6 L2037 1430.07 L2036 1430.53 L2035 1430.97 L2034 1431.39 L2033 1431.78 L2032 1432.16 L2031 1432.54 L2030 1432.91 L2029 1433.27 L2028 1433.63 L2027 1433.98 L2026 1434.32 L2025 1434.64 L2024 1434.95 L2023 1435.23 L2022 1435.5 L2021 1435.75 L2020 1435.98 L2019 1436.23 L2018 1436.47 L2017 1436.71 L2016 1436.93 L2015 1437.13 L2014 1437.31 L2013 1437.44 L2012 1437.53 L2011 1437.57 L2010 1437.56 L2009 1437.54 L2008 1437.5 L2007 1437.44 L2006 1437.38 L2005 1437.3 L2004 1437.21 L2003 1437.11 L2002 1437 L2001 1436.89 L2000 1436.77 L1999 1436.64 L1998 1436.46 L1997 1436.22 L1996 1435.94 L1995 1435.61 L1994 1435.25 L1993 1434.87 L1992 1434.47 L1991 1434.05 L1990 1433.64 L1989 1433.23 L1988 1432.82 L1987 1432.4 L1986 1431.95 L1985 1431.49 L1984 1431.01 L1983 1430.52 L1982 1430.01 L1981 1429.49 L1980 1428.95 L1979 1428.41 L1978 1427.86 L1977 1427.29 L1976 1426.71 L1975 1426.12 L1974 1425.51 L1973 1424.89 L1972 1424.24 L1971 1423.58 L1970 1422.9 L1969 1422.2 L1968 1421.49 L1967 1420.74 L1966 1419.98 L1965 1419.16 L1964 1418.32 L1963 1417.44 L1962 1416.53 L1961 1415.61 L1960 1414.67 L1959 1413.72 L1958 1412.76 L1957 1411.81 L1956 1410.87 L1955 1409.93 L1954 1408.98 L1953 1408.02 L1952 1407.06 L1951 1406.09 L1950 1405.11 L1949 1404.12 L1948 1403.12 L1947 1402.11 L1946 1401.09 L1945 1400.05 L1944 1399.01 L1943 1397.94 L1942 1396.85 L1941 1395.74 L1940 1394.63 L1939 1393.5 L1938 1392.37 L1937 1391.24 L1936 1390.11 L1935 1388.98 L1934 1387.85 L1933 1386.74 L1932 1385.62 L1931 1384.51 L1930 1383.39 L1929 1382.27 L1928 1381.15 L1927 1380.03 L1926 1378.91 L1925 1377.79 L1924 1376.68 L1923 1375.56 L1922 1374.45 L1921 1373.32 L1920 1372.19 L1919 1371.05 L1918 1369.9 L1917 1368.77 L1916 1367.64 L1915 1366.53 L1914 1365.43 L1913 1364.36 L1912 1363.31 L1911 1362.3 L1910 1361.3 L1909 1360.32 L1908 1359.36 L1907 1358.41 L1906 1357.47 L1905 1356.56 L1904 1355.66 L1903 1354.78 L1902 1353.92 L1901 1353.08 L1900 1352.26 L1899 1351.43 L1898 1350.59 L1897 1349.76 L1896 1348.95 L1895 1348.15 L1894 1347.39 L1893 1346.67 L1892 1345.99 L1891 1345.38 L1890 1344.83 L1889 1344.35 L1888 1343.85 L1887 1343.36 L1886 1342.88 L1885 1342.41 L1884 1341.98 L1883 1341.6 L1882 1341.26 L1881 1340.99 L1880 1340.8 L1879 1340.69 L1878 1340.68 L1877 1340.68 L1876 1340.68 L1875 1340.68 L1874 1340.68 L1873 1340.68 L1872 1340.69 L1871 1340.69 L1870 1340.69 L1869 1340.69 L1868 1340.69 L1867 1340.74 L1866 1340.87 L1865 1341.07 L1864 1341.34 L1863 1341.66 L1862 1342.02 L1861 1342.41 L1860 1342.83 L1859 1343.25 L1858 1343.67 L1857 1344.09 L1856 1344.49 L1855 1344.91 L1854 1345.36 L1853 1345.85 L1852 1346.35 L1851 1346.88 L1850 1347.43 L1849 1347.99 L1848 1348.57 L1847 1349.16 L1846 1349.76 L1845 1350.37 L1844 1351.02 L1843 1351.7 L1842 1352.4 L1841 1353.13 L1840 1353.87 L1839 1354.62 L1838 1355.38 L1837 1356.13 L1836 1356.88 L1835 1357.62 L1834 1358.34 L1833 1359.06 L1832 1359.78 L1831 1360.51 L1830 1361.23 L1829 1361.95 L1828 1362.67 L1827 1363.38 L1826 1364.09 L1825 1364.8 L1824 1365.5 L1823 1366.19 L1822 1366.89 L1821 1367.6 L1820 1368.32 L1819 1369.04 L1818 1369.75 L1817 1370.45 L1816 1371.12 L1815 1371.77 L1814 1372.38 L1813 1372.94 L1812 1373.46 L1811 1373.97 L1810 1374.49 L1809 1375 L1808 1375.51 L1807 1376.01 L1806 1376.47 L1805 1376.91 L1804 1377.3 L1803 1377.65 L1802 1377.94 L1801 1378.16 L1800 1378.31 L1799 1378.39 L1798 1378.46 L1797 1378.52 L1796 1378.58 L1795 1378.63 L1794 1378.67 L1793 1378.71 L1792 1378.73 L1791 1378.75 L1790 1378.75 L1789 1378.64 L1788 1378.38 L1787 1377.98 L1786 1377.47 L1785 1376.85 L1784 1376.15 L1783 1375.37 L1782 1374.53 L1781 1373.66 L1780 1372.75 L1779 1371.84 L1778 1370.93 L1777 1369.94 L1776 1368.78 L1775 1367.49 L1774 1366.07 L1773 1364.56 L1772 1362.98 L1771 1361.35 L1770 1359.69 L1769 1358.03 L1768 1356.38 L1767 1354.72 L1766 1353 L1765 1351.23 L1764 1349.42 L1763 1347.56 L1762 1345.66 L1761 1343.73 L1760 1341.76 L1759 1339.76 L1758 1337.73 L1757 1335.67 L1756 1333.57 L1755 1331.41 L1754 1329.2 L1753 1326.96 L1752 1324.68 L1751 1322.36 L1750 1320.02 L1749 1317.66 L1748 1315.28 L1747 1312.89 L1746 1310.5 L1745 1308.08 L1744 1305.65 L1743 1303.2 L1742 1300.72 L1741 1298.22 L1740 1295.69 L1739 1293.13 L1738 1290.54 L1737 1287.92 L1736 1285.25 L1735 1282.55 L1734 1279.8 L1733 1276.99 L1732 1274.12 L1731 1271.21 L1730 1268.27 L1729 1265.29 L1728 1262.3 L1727 1259.3 L1726 1256.3 L1725 1253.3 L1724 1250.32 L1723 1247.34 L1722 1244.35 L1721 1241.34 L1720 1238.32 L1719 1235.3 L1718 1232.27 L1717 1229.24 L1716 1226.21 L1715 1223.18 L1714 1220.15 L1713 1217.13 L1712 1214.11 L1711 1211.08 L1710 1208.03 L1709 1204.98 L1708 1201.93 L1707 1198.89 L1706 1195.86 L1705 1192.85 L1704 1189.86 L1703 1186.91 L1702 1183.99 L1701 1181.1 L1700 1178.22 L1699 1175.36 L1698 1172.51 L1697 1169.69 L1696 1166.9 L1695 1164.14 L1694 1161.41 L1693 1158.73 L1692 1156.1 L1691 1153.51 L1690 1150.9 L1689 1148.28 L1688 1145.67 L1687 1143.08 L1686 1140.53 L1685 1138.04 L1684 1135.62 L1683 1133.29 L1682 1131.07 L1681 1128.97 L1680 1127 L1679 1125.17 L1678 1123.39 L1677 1121.67 L1676 1120.01 L1675 1118.41 L1674 1116.89 L1673 1115.43 L1672 1114.05 L1671 1112.75 L1670 1111.54 L1669 1110.41 L1668 1109.31 L1667 1108.21 L1666 1107.12 L1665 1106.07 L1664 1105.06 L1663 1104.12 L1662 1103.26 L1661 1102.5 L1660 1101.86 L1659 1101.34 L1658 1100.98 L1657 1100.72 L1656 1100.47 L1655 1100.24 L1654 1100.03 L1653 1099.85 L1652 1099.69 L1651 1099.57 L1650 1099.48 L1649 1099.43 L1648 1099.42 L1647 1099.51 L1646 1099.73 L1645 1100.05 L1644 1100.46 L1643 1100.96 L1642 1101.52 L1641 1102.15 L1640 1102.82 L1639 1103.52 L1638 1104.25 L1637 1104.98 L1636 1105.71 L1635 1106.45 L1634 1107.3 L1633 1108.23 L1632 1109.25 L1631 1110.34 L1630 1111.5 L1629 1112.73 L1628 1114 L1627 1115.32 L1626 1116.67 L1625 1118.08 L1624 1119.59 L1623 1121.21 L1622 1122.92 L1621 1124.71 L1620 1126.57 L1619 1128.48 L1618 1130.44 L1617 1132.43 L1616 1134.43 L1615 1136.45 L1614 1138.46 L1613 1140.46 L1612 1142.51 L1611 1144.62 L1610 1146.77 L1609 1148.95 L1608 1151.16 L1607 1153.38 L1606 1155.61 L1605 1157.84 L1604 1160.06 L1603 1162.25 L1602 1164.46 L1601 1166.69 L1600 1168.94 L1599 1171.2 L1598 1173.46 L1597 1175.71 L1596 1177.95 L1595 1180.15 L1594 1182.33 L1593 1184.45 L1592 1186.53 L1591 1188.56 L1590 1190.59 L1589 1192.63 L1588 1194.67 L1587 1196.69 L1586 1198.71 L1585 1200.71 L1584 1202.68 L1583 1204.62 L1582 1206.52 L1581 1208.39 L1580 1210.2 L1579 1211.96 L1578 1213.66 L1577 1215.3 L1576 1216.86 L1575 1218.35 L1574 1219.76 L1573 1221.13 L1572 1222.49 L1571 1223.81 L1570 1225.08 L1569 1226.28 L1568 1227.41 L1567 1228.45 L1566 1229.38 L1565 1230.19 L1564 1230.9 L1563 1231.61 L1562 1232.31 L1561 1232.98 L1560 1233.6 L1559 1234.15 L1558 1234.61 L1557 1234.97 L1556 1235.2 L1555 1235.28 L1554 1235.29 L1553 1235.29 L1552 1235.3 L1551 1235.3 L1550 1235.31 L1549 1235.31 L1548 1235.32 L1547 1235.3 L1546 1235.16 L1545 1234.89 L1544 1234.52 L1543 1234.05 L1542 1233.51 L1541 1232.89 L1540 1232.22 L1539 1231.51 L1538 1230.77 L1537 1230.02 L1536 1229.27 L1535 1228.49 L1534 1227.6 L1533 1226.61 L1532 1225.51 L1531 1224.32 L1530 1223.05 L1529 1221.71 L1528 1220.31 L1527 1218.85 L1526 1217.34 L1525 1215.79 L1524 1214.09 L1523 1212.23 L1522 1210.25 L1521 1208.16 L1520 1205.98 L1519 1203.75 L1518 1201.47 L1517 1199.18 L1516 1196.9 L1515 1194.65 L1514 1192.42 L1513 1190.16 L1512 1187.87 L1511 1185.54 L1510 1183.2 L1509 1180.83 L1508 1178.45 L1507 1176.05 L1506 1173.65 L1505 1171.25 L1504 1168.84 L1503 1166.44 L1502 1164.02 L1501 1161.57 L1500 1159.11 L1499 1156.64 L1498 1154.16 L1497 1151.69 L1496 1149.22 L1495 1146.76 L1494 1144.32 L1493 1141.9 L1492 1139.5 L1491 1137.08 L1490 1134.62 L1489 1132.15 L1488 1129.68 L1487 1127.24 L1486 1124.84 L1485 1122.5 L1484 1120.24 L1483 1118.08 L1482 1116.04 L1481 1114.13 L1480 1112.32 L1479 1110.59 L1478 1108.93 L1477 1107.35 L1476 1105.83 L1475 1104.38 L1474 1102.97 L1473 1101.58 L1472 1100.22 L1471 1098.9 L1470 1097.65 L1469 1096.47 L1468 1095.39 L1467 1094.42 L1466 1093.54 L1465 1092.7 L1464 1091.92 L1463 1091.22 L1462 1090.62 L1461 1090.14 L1460 1089.72 L1459 1089.32 L1458 1088.94 L1457 1088.6 L1456 1088.33 L1455 1088.13 L1454 1088.04 L1453 1088.06 L1452 1088.23 L1451 1088.52 L1450 1088.92 L1449 1089.41 L1448 1089.97 L1447 1090.57 L1446 1091.21 L1445 1091.85 L1444 1092.59 L1443 1093.52 L1442 1094.58 L1441 1095.77 L1440 1097.04 L1439 1098.35 L1438 1099.69 L1437 1101.01 L1436 1102.34 L1435 1103.73 L1434 1105.18 L1433 1106.7 L1432 1108.27 L1431 1109.91 L1430 1111.62 L1429 1113.39 L1428 1115.22 L1427 1117.12 L1426 1119.09 L1425 1121.12 L1424 1123.2 L1423 1125.35 L1422 1127.56 L1421 1129.87 L1420 1132.35 L1419 1134.95 L1418 1137.61 L1417 1140.3 L1416 1142.97 L1415 1145.56 L1414 1148.08 L1413 1150.58 L1412 1153.06 L1411 1155.53 L1410 1158 L1409 1160.46 L1408 1162.92 L1407 1165.39 L1406 1167.88 L1405 1170.38 L1404 1172.9 L1403 1175.45 L1402 1178.03 L1401 1180.62 L1400 1183.22 L1399 1185.83 L1398 1188.45 L1397 1191.08 L1396 1193.7 L1395 1196.32 L1394 1198.93 L1393 1201.53 L1392 1204.14 L1391 1206.81 L1390 1209.52 L1389 1212.24 L1388 1214.95 L1387 1217.61 L1386 1220.2 L1385 1222.69 L1384 1225.07 L1383 1227.29 L1382 1229.43 L1381 1231.6 L1380 1233.76 L1379 1235.86 L1378 1237.88 L1377 1239.76 L1376 1241.48 L1375 1242.98 L1374 1244.25 L1373 1245.23 L1372 1246.11 L1371 1246.96 L1370 1247.76 L1369 1248.48 L1368 1249.08 L1367 1249.53 L1366 1249.81 L1365 1249.89 L1364 1249.76 L1363 1249.45 L1362 1248.98 L1361 1248.37 L1360 1247.67 L1359 1246.89 L1358 1246.05 L1357 1245.2 L1356 1244.18 L1355 1242.89 L1354 1241.38 L1353 1239.68 L1352 1237.82 L1351 1235.82 L1350 1233.72 L1349 1231.56 L1348 1229.3 L1347 1226.84 L1346 1224.18 L1345 1221.33 L1344 1218.31 L1343 1215.11 L1342 1211.75 L1341 1208.25 L1340 1204.6 L1339 1200.83 L1338 1196.93 L1337 1192.82 L1336 1188.39 L1335 1183.65 L1334 1178.65 L1333 1173.41 L1332 1167.98 L1331 1162.38 L1330 1156.65 L1329 1150.81 L1328 1144.91 L1327 1138.98 L1326 1133.01 L1325 1126.89 L1324 1120.61 L1323 1114.19 L1322 1107.62 L1321 1100.91 L1320 1094.06 L1319 1087.09 L1318 1080 L1317 1072.79 L1316 1065.47 L1315 1058.03 L1314 1050.34 L1313 1042.4 L1312 1034.26 L1311 1025.95 L1310 1017.53 L1309 1009.04 L1308 1000.51 L1307 992 L1306 983.55 L1305 975.21 L1304 966.9 L1303 958.57 L1302 950.24 L1301 941.89 L1300 933.54 L1299 925.18 L1298 916.82 L1297 908.46 L1296 900.1 L1295 891.75 L1294 883.41 L1293 875.07 L1292 866.75 L1291 858.43 L1290 850.1 L1289 841.77 L1288 833.45 L1287 825.14 L1286 816.84 L1285 808.57 L1284 800.32 L1283 792.09 L1282 783.84 L1281 775.55 L1280 767.22 L1279 758.9 L1278 750.59 L1277 742.31 L1276 734.09 L1275 725.94 L1274 717.89 L1273 709.94 L1272 702.13 L1271 694.46 L1270 686.95 L1269 679.52 L1268 672.17 L1267 664.91 L1266 657.77 L1265 650.75 L1264 643.87 L1263 637.15 L1262 630.6 L1261 624.24 L1260 617.96 L1259 611.75 L1258 605.67 L1257 599.72 L1256 593.93 L1255 588.33 L1254 582.95 L1253 577.8 L1252 572.87 L1251 568.01 L1250 563.23 L1249 558.58 L1248 554.09 L1247 549.81 L1246 545.76 L1245 542 L1244 538.55 L1243 535.43 L1242 532.41 L1241 529.52 L1240 526.82 L1239 524.39 L1238 522.32 L1237 520.68 L1236 519.44 L1235 518.28 L1234 517.2 L1233 516.24 L1232 515.44 L1231 514.87 L1230 514.56 L1229 514.56 L1228 514.93 L1227 515.64 L1226 516.64 L1225 517.87 L1224 519.25 L1223 520.73 L1222 522.27 L1221 524.17 L1220 526.56 L1219 529.33 L1218 532.4 L1217 535.68 L1216 539.09 L1215 542.55 L1214 546.2 L1213 550.11 L1212 554.26 L1211 558.62 L1210 563.19 L1209 567.95 L1208 572.87 L1207 577.95 L1206 583.17 L1205 588.5 L1204 593.95 L1203 599.66 L1202 605.67 L1201 611.97 L1200 618.5 L1199 625.23 L1198 632.14 L1197 639.17 L1196 646.31 L1195 653.5 L1194 660.72 L1193 667.94 L1192 675.18 L1191 682.57 L1190 690.1 L1189 697.74 L1188 705.47 L1187 713.29 L1186 721.15 L1185 729.06 L1184 736.98 L1183 744.91 L1182 752.81 L1181 760.71 L1180 768.71 L1179 776.79 L1178 784.92 L1177 793.07 L1176 801.21 L1175 809.31 L1174 817.34 L1173 825.27 L1172 833.08 L1171 840.72 L1170 848.19 L1169 855.53 L1168 862.79 L1167 870.03 L1166 877.3 L1165 884.64 L1164 891.9 L1163 899.07 L1162 906.21 L1161 913.39 L1160 920.72 L1159 928.28 L1158 936.15 L1157 944.42 L1156 953.18 L1155 962.33 L1154 971.74 L1153 981.27 L1152 990.82 L1151 1000.25 L1150 1009.44 L1149 1018.52 L1148 1027.62 L1147 1036.71 L1146 1045.79 L1145 1054.83 L1144 1063.83 L1143 1072.75 L1142 1081.6 L1141 1090.34 L1140 1098.96 L1139 1107.45 L1138 1115.78 L1137 1123.89 L1136 1131.82 L1135 1139.57 L1134 1147.26 L1133 1154.88 L1132 1162.32 L1131 1169.51 L1130 1176.45 L1129 1183.22 L1128 1189.93 L1127 1196.64 L1126 1203.28 L1125 1209.82 L1124 1216.16 L1123 1222.36 L1122 1228.88 L1121 1235.64 L1120 1242.65 L1119 1249.74 L1118 1256.82 L1117 1263.03 L1116 1268.29 L1115 1273.84 L1114 1279.64 L1113 1284.83 L1112 1289.53 L1111 1293.16 L1110 1296.11 L1109 1298.65 L1108 1300.98 L1103 1311.5 L1093.5 1322.5 L1073.6 1343.4 L1047.9 1365.9 L1028.6 1382 L1011.9 1396.4 L996.4 1404.5 L985.2 1410.9 L960.4 1422.1 L935.4 1431.8 L919.3 1436.6 L900 1445.5 L875.7 1449.3 L847.1 1458.2 L840 1466.5 L832.9 1471.4 L813.2 1474.3 L790.7 1476.1 L763.9 1479.6 L731.1 1483.9 L688.9 1493.9 L647.1 1506.4 L629.4 1511.8 Z"/>
<path stroke="#f00" stroke-width="4.8" fill="none" d="M629.3 1361.9V1546.8M688.9 1099.3V1463.2M731.1 1310V1495.7M763.9 1076.1V1400.4M790.7 1381.1V1500.7M813.2 1213.9V1423.2M832.9 1383.2V1490.4M857.9 1393.2V1464.3M886.4 1370V1444.6M910.4 1387.9V1451.9M935 1370.9V1425.3M960.4 1405.4V1449.4M985.2 1425.9V1458.4M1011.9 1372.6V1407M1047.9 1336.3V1362.6M1085.5 1305.7V1332.1M1093.5 1291.9V1311.8M1128.3 1170.8V1194.3M1150.1 972.5V1001.4M1172.3 802.4V836.2M1194.1 612.1V649.8M1216.3 484.2V523.1M1238.6 451V488M1260.3 598.6V629.8M1282.5 763.9V788.9M1304.8 959.3V977.6M1326.6 1124.9V1137.4M1348.8 1212.6V1222.6M1371 1240.9V1250.2M1392.8 1196.2V1206.2M1415 1136.1V1147M1437 1081.9V1093.6M1459.2 1086.8V1097.2M1481.4 1104V1114M1503.3 1157.2V1166.4M1525.4 1208V1216.4M1547.6 1221.7V1229.7M1569.5 1216.9V1224.9M1591.6 1189.3V1197.3M1613.5 1136V1144.4M1635.7 1114.8V1123.2M1657.9 1091.7V1100.1M1679.7 1115.4V1123.8M1701.9 1176.1V1184.1M1724.1 1244V1251.2M1746.3 1307.7V1314.1M1768.1 1354.6V1360.6M1790.2 1373.3V1378.9M1812.2 1370.3V1375.5M1834.3 1354.1V1359.3M1856.5 1343.9V1348.9M1878.4 1337.5V1342.5M1900.5 1350V1354.8M1922.5 1368.9V1373.7M1944.6 1395.1V1399.7M1966.8 1417.2V1421.8M1988.7 1429.2V1433.6M2010.9 1437.4V1441.8M2033 1426.3V1430.7M2055 1425.8V1430.2M2077.1 1414.8V1419.2M2099.2 1422V1426.4M2121.4 1431V1435.4M2143.3 1443.2V1447.6M2165.5 1463.4V1467.8M2187.6 1478.4V1482.8M2209.6 1489.4V1493.8M2231.7 1496V1500.4M2253.7 1496.9V1501.3M2275.8 1498.4V1502.8M2297.8 1498.4V1502.8M2319.9 1500.2V1504.6M2342 1504.7V1509.1M2364 1509.5V1513.9M2386.1 1517.3V1521.7M2408.3 1522.3V1526.7M2430.2 1524.8V1529.2M2452.4 1529V1533.4M2474.3 1526.8V1531.2M2496.5 1525.9V1530.3M2518.6 1529.8V1534.2M2540.6 1528.6V1533M2562.7 1530.7V1535.1M2584.8 1534.2V1538.6M2606.9 1536.5V1540.9M2629 1539.4V1543.8M2653.1 1546.2V1550.8M2683.7 1550.7V1555.3M2726.5 1546.5V1551.5M2794.6 1550.8V1555.8"/>
<path fill="none" stroke="#008652" stroke-width="3.2" stroke-linejoin="round" d="M627 1357 L628 1357.12 L629 1357.25 L630 1357.38 L631 1357.51 L632 1357.64 L633 1357.78 L634 1357.92 L635 1358.06 L636 1358.2 L637 1358.35 L638 1358.5 L639 1358.66 L640 1358.81 L641 1358.97 L642 1359.13 L643 1359.29 L644 1359.46 L645 1359.63 L646 1359.8 L647 1359.97 L648 1360.15 L649 1360.32 L650 1360.5 L651 1360.69 L652 1360.87 L653 1361.06 L654 1361.25 L655 1361.44 L656 1361.63 L657 1361.83 L658 1362.02 L659 1362.22 L660 1362.42 L661 1362.62 L662 1362.83 L663 1363.04 L664 1363.24 L665 1363.45 L666 1363.66 L667 1363.88 L668 1364.09 L669 1364.31 L670 1364.53 L671 1364.75 L672 1364.97 L673 1365.19 L674 1365.41 L675 1365.64 L676 1365.87 L677 1366.1 L678 1366.32 L679 1366.56 L680 1366.79 L681 1367.02 L682 1367.25 L683 1367.49 L684 1367.73 L685 1367.96 L686 1368.2 L687 1368.44 L688 1368.68 L689 1368.92 L690 1369.17 L691 1369.42 L692 1369.68 L693 1369.95 L694 1370.22 L695 1370.49 L696 1370.78 L697 1371.06 L698 1371.36 L699 1371.65 L700 1371.95 L701 1372.26 L702 1372.57 L703 1372.88 L704 1373.2 L705 1373.51 L706 1373.84 L707 1374.16 L708 1374.49 L709 1374.82 L710 1375.15 L711 1375.48 L712 1375.81 L713 1376.15 L714 1376.48 L715 1376.82 L716 1377.16 L717 1377.49 L718 1377.83 L719 1378.17 L720 1378.5 L721 1378.83 L722 1379.17 L723 1379.5 L724 1379.83 L725 1380.16 L726 1380.48 L727 1380.81 L728 1381.13 L729 1381.44 L730 1381.76 L731 1382.07 L732 1382.38 L733 1382.69 L734 1382.99 L735 1383.3 L736 1383.61 L737 1383.92 L738 1384.23 L739 1384.53 L740 1384.84 L741 1385.15 L742 1385.45 L743 1385.76 L744 1386.07 L745 1386.37 L746 1386.68 L747 1386.98 L748 1387.29 L749 1387.59 L750 1387.9 L751 1388.2 L752 1388.51 L753 1388.81 L754 1389.12 L755 1389.42 L756 1389.72 L757 1390.02 L758 1390.33 L759 1390.63 L760 1390.93 L761 1391.23 L762 1391.53 L763 1391.83 L764 1392.13 L765 1392.43 L766 1392.73 L767 1393.04 L768 1393.34 L769 1393.64 L770 1393.95 L771 1394.25 L772 1394.56 L773 1394.86 L774 1395.17 L775 1395.47 L776 1395.78 L777 1396.08 L778 1396.38 L779 1396.68 L780 1396.98 L781 1397.27 L782 1397.57 L783 1397.86 L784 1398.15 L785 1398.43 L786 1398.72 L787 1399 L788 1399.27 L789 1399.55 L790 1399.81 L791 1400.08 L792 1400.34 L793 1400.61 L794 1400.87 L795 1401.14 L796 1401.41 L797 1401.67 L798 1401.93 L799 1402.19 L800 1402.45 L801 1402.7 L802 1402.96 L803 1403.2 L804 1403.45 L805 1403.68 L806 1403.92 L807 1404.14 L808 1404.37 L809 1404.58 L810 1404.79 L811 1404.99 L812 1405.18 L813 1405.36 L814 1405.54 L815 1405.71 L816 1405.88 L817 1406.04 L818 1406.2 L819 1406.36 L820 1406.51 L821 1406.65 L822 1406.8 L823 1406.94 L824 1407.08 L825 1407.21 L826 1407.34 L827 1407.47 L828 1407.6 L829 1407.73 L830 1407.85 L831 1407.97 L832 1408.09 L833 1408.21 L834 1408.33 L835 1408.46 L836 1408.59 L837 1408.72 L838 1408.85 L839 1408.99 L840 1409.12 L841 1409.25 L842 1409.39 L843 1409.52 L844 1409.65 L845 1409.77 L846 1409.89 L847 1410.01 L848 1410.11 L849 1410.22 L850 1410.31 L851 1410.4 L852 1410.47 L853 1410.54 L854 1410.6 L855 1410.64 L856 1410.67 L857 1410.69 L858 1410.7 L859 1410.7 L860 1410.69 L861 1410.69 L862 1410.68 L863 1410.67 L864 1410.66 L865 1410.64 L866 1410.62 L867 1410.61 L868 1410.59 L869 1410.56 L870 1410.54 L871 1410.51 L872 1410.49 L873 1410.46 L874 1410.43 L875 1410.4 L876 1410.37 L877 1410.34 L878 1410.3 L879 1410.27 L880 1410.23 L881 1410.2 L882 1410.16 L883 1410.13 L884 1410.09 L885 1410.05 L886 1410.02 L887 1409.98 L888 1409.94 L889 1409.89 L890 1409.84 L891 1409.79 L892 1409.73 L893 1409.67 L894 1409.61 L895 1409.55 L896 1409.48 L897 1409.41 L898 1409.33 L899 1409.26 L900 1409.18 L901 1409.09 L902 1409.01 L903 1408.92 L904 1408.83 L905 1408.74 L906 1408.64 L907 1408.55 L908 1408.45 L909 1408.34 L910 1408.24 L911 1408.14 L912 1408.02 L913 1407.9 L914 1407.77 L915 1407.63 L916 1407.49 L917 1407.34 L918 1407.18 L919 1407.02 L920 1406.85 L921 1406.67 L922 1406.49 L923 1406.31 L924 1406.12 L925 1405.93 L926 1405.74 L927 1405.54 L928 1405.34 L929 1405.13 L930 1404.93 L931 1404.72 L932 1404.51 L933 1404.3 L934 1404.09 L935 1403.88 L936 1403.67 L937 1403.46 L938 1403.24 L939 1403.02 L940 1402.79 L941 1402.55 L942 1402.32 L943 1402.08 L944 1401.83 L945 1401.58 L946 1401.33 L947 1401.08 L948 1400.81 L949 1400.55 L950 1400.28 L951 1400.01 L952 1399.74 L953 1399.46 L954 1399.18 L955 1398.89 L956 1398.6 L957 1398.31 L958 1398.02 L959 1397.72 L960 1397.42 L961 1397.12 L962 1396.81 L963 1396.49 L964 1396.17 L965 1395.84 L966 1395.51 L967 1395.18 L968 1394.83 L969 1394.49 L970 1394.14 L971 1393.78 L972 1393.42 L973 1393.05 L974 1392.68 L975 1392.31 L976 1391.93 L977 1391.55 L978 1391.17 L979 1390.78 L980 1390.39 L981 1389.99 L982 1389.59 L983 1389.19 L984 1388.79 L985 1388.38 L986 1387.97 L987 1387.56 L988 1387.14 L989 1386.72 L990 1386.3 L991 1385.87 L992 1385.44 L993 1385 L994 1384.56 L995 1384.11 L996 1383.66 L997 1383.21 L998 1382.75 L999 1382.28 L1000 1381.81 L1001 1381.34 L1002 1380.86 L1003 1380.37 L1004 1379.88 L1005 1379.39 L1006 1378.88 L1007 1378.38 L1008 1377.86 L1009 1377.34 L1010 1376.82 L1011 1376.28 L1012 1375.75 L1013 1375.2 L1014 1374.65 L1015 1374.09 L1016 1373.53 L1017 1372.95 L1018 1372.38 L1019 1371.79 L1020 1371.2 L1021 1370.6 L1022 1370 L1023 1369.39 L1024 1368.77 L1025 1368.15 L1026 1367.52 L1027 1366.88 L1028 1366.24 L1029 1365.6 L1030 1364.94 L1031 1364.28 L1032 1363.62 L1033 1362.95 L1034 1362.27 L1035 1361.59 L1036 1360.9 L1037 1360.21 L1038 1359.51 L1039 1358.81 L1040 1358.1 L1041 1357.38 L1042 1356.66 L1043 1355.93 L1044 1355.2 L1045 1354.47 L1046 1353.72 L1047 1352.98 L1048 1352.22 L1049 1351.46 L1050 1350.69 L1051 1349.9 L1052 1349.1 L1053 1348.3 L1054 1347.48 L1055 1346.64 L1056 1345.8 L1057 1344.95 L1058 1344.09 L1059 1343.23 L1060 1342.35 L1061 1341.47 L1062 1340.57 L1063 1339.67 L1064 1338.77 L1065 1337.85 L1066 1336.94 L1067 1336.01 L1068 1335.08 L1069 1334.15 L1070 1333.21 L1071 1332.27 L1072 1331.32 L1073 1330.37 L1074 1329.42 L1075 1328.44 L1076 1327.45 L1077 1326.44 L1078 1325.42 L1079 1324.38 L1080 1323.33 L1081 1322.27 L1082 1321.21 L1083 1320.14 L1084 1319.08 L1085 1318.01 L1086 1316.95 L1087 1315.9 L1088 1314.85 L1089 1313.82 L1090 1312.8 L1091 1311.79 L1092 1310.81 L1093 1309.89 L1094 1309.02 L1095 1308.2 L1096 1307.39 L1097 1306.58 L1098 1305.76 L1099 1304.89 L1100 1303.97 L1101 1302.97 L1102 1301.87 L1103 1300.66 L1104 1299.28 L1105 1297.6 L1106 1295.64 L1107 1293.46 L1108 1291.12 L1109 1288.65 L1110 1285.9 L1111 1282.71 L1112 1278.82 L1113 1273.82 L1114 1268.3 L1115 1262.14 L1116 1256.26 L1117 1250.66 L1118 1244.06 L1119 1236.57 L1120 1229.24 L1121 1222 L1122 1215.02 L1123 1208.28 L1124 1201.88 L1125 1195.34 L1126 1188.59 L1127 1181.73 L1128 1174.81 L1129 1167.88 L1130 1160.89 L1131 1153.73 L1132 1146.31 L1133 1138.62 L1134 1130.76 L1135 1122.82 L1136 1114.82 L1137 1106.69 L1138 1098.39 L1139 1089.86 L1140 1081.16 L1141 1072.33 L1142 1063.38 L1143 1054.33 L1144 1045.19 L1145 1035.98 L1146 1026.72 L1147 1017.43 L1148 1008.12 L1149 998.82 L1150 989.53 L1151 980.13 L1152 970.48 L1153 960.71 L1154 950.95 L1155 941.33 L1156 931.98 L1157 923.03 L1158 914.59 L1159 906.57 L1160 898.86 L1161 891.39 L1162 884.07 L1163 876.83 L1164 869.58 L1165 862.23 L1166 854.8 L1167 847.44 L1168 840.11 L1169 832.76 L1170 825.34 L1171 817.77 L1172 810.03 L1173 802.13 L1174 794.09 L1175 785.95 L1176 777.74 L1177 769.49 L1178 761.24 L1179 753 L1180 744.81 L1181 736.71 L1182 728.71 L1183 720.71 L1184 712.69 L1185 704.67 L1186 696.67 L1187 688.7 L1188 680.8 L1189 672.97 L1190 665.24 L1191 657.63 L1192 650.16 L1193 642.85 L1194 635.56 L1195 628.26 L1196 621 L1197 613.79 L1198 606.69 L1199 599.72 L1200 592.93 L1201 586.34 L1202 580 L1203 573.94 L1204 568.21 L1205 562.73 L1206 557.38 L1207 552.14 L1208 547.05 L1209 542.11 L1210 537.35 L1211 532.78 L1212 528.42 L1213 524.28 L1214 520.38 L1215 516.74 L1216 513.3 L1217 509.92 L1218 506.66 L1219 503.62 L1220 500.89 L1221 498.55 L1222 496.7 L1223 495.23 L1224 493.82 L1225 492.5 L1226 491.35 L1227 490.42 L1228 489.79 L1229 489.51 L1230 489.61 L1231 490.03 L1232 490.72 L1233 491.63 L1234 492.71 L1235 493.92 L1236 495.21 L1237 496.57 L1238 498.35 L1239 500.56 L1240 503.14 L1241 505.99 L1242 509.04 L1243 512.22 L1244 515.5 L1245 519.11 L1246 523.05 L1247 527.27 L1248 531.73 L1249 536.4 L1250 541.24 L1251 546.2 L1252 551.25 L1253 556.36 L1254 561.7 L1255 567.28 L1256 573.07 L1257 579.05 L1258 585.2 L1259 591.49 L1260 597.89 L1261 604.39 L1262 611 L1263 617.8 L1264 624.77 L1265 631.89 L1266 639.16 L1267 646.56 L1268 654.06 L1269 661.66 L1270 669.34 L1271 677.09 L1272 685 L1273 693.06 L1274 701.25 L1275 709.55 L1276 717.95 L1277 726.41 L1278 734.93 L1279 743.48 L1280 752.04 L1281 760.6 L1282 769.13 L1283 777.61 L1284 786.06 L1285 794.54 L1286 803.03 L1287 811.55 L1288 820.08 L1289 828.61 L1290 837.16 L1291 845.7 L1292 854.23 L1293 862.77 L1294 871.3 L1295 879.85 L1296 888.41 L1297 896.97 L1298 905.53 L1299 914.08 L1300 922.64 L1301 931.19 L1302 939.72 L1303 948.25 L1304 956.76 L1305 965.25 L1306 973.79 L1307 982.42 L1308 991.11 L1309 999.82 L1310 1008.49 L1311 1017.09 L1312 1025.57 L1313 1033.88 L1314 1041.99 L1315 1049.84 L1316 1057.43 L1317 1064.9 L1318 1072.26 L1319 1079.5 L1320 1086.61 L1321 1093.59 L1322 1100.44 L1323 1107.14 L1324 1113.69 L1325 1120.09 L1326 1126.34 L1327 1132.42 L1328 1138.48 L1329 1144.49 L1330 1150.44 L1331 1156.28 L1332 1161.99 L1333 1167.53 L1334 1172.86 L1335 1177.96 L1336 1182.79 L1337 1187.32 L1338 1191.5 L1339 1195.48 L1340 1199.33 L1341 1203.05 L1342 1206.63 L1343 1210.05 L1344 1213.31 L1345 1216.4 L1346 1219.31 L1347 1222.02 L1348 1224.54 L1349 1226.85 L1350 1229.06 L1351 1231.2 L1352 1233.24 L1353 1235.15 L1354 1236.89 L1355 1238.44 L1356 1239.76 L1357 1240.81 L1358 1241.69 L1359 1242.55 L1360 1243.36 L1361 1244.09 L1362 1244.72 L1363 1245.21 L1364 1245.55 L1365 1245.7 L1366 1245.63 L1367 1245.36 L1368 1244.91 L1369 1244.32 L1370 1243.61 L1371 1242.82 L1372 1241.96 L1373 1241.08 L1374 1240.09 L1375 1238.82 L1376 1237.3 L1377 1235.57 L1378 1233.67 L1379 1231.64 L1380 1229.51 L1381 1227.34 L1382 1225.15 L1383 1222.98 L1384 1220.74 L1385 1218.35 L1386 1215.83 L1387 1213.21 L1388 1210.52 L1389 1207.79 L1390 1205.05 L1391 1202.31 L1392 1199.61 L1393 1196.98 L1394 1194.36 L1395 1191.72 L1396 1189.08 L1397 1186.43 L1398 1183.78 L1399 1181.14 L1400 1178.5 L1401 1175.87 L1402 1173.26 L1403 1170.66 L1404 1168.09 L1405 1165.54 L1406 1163.02 L1407 1160.51 L1408 1158.02 L1409 1155.53 L1410 1153.05 L1411 1150.57 L1412 1148.07 L1413 1145.57 L1414 1143.05 L1415 1140.5 L1416 1137.89 L1417 1135.2 L1418 1132.49 L1419 1129.79 L1420 1127.18 L1421 1124.68 L1422 1122.35 L1423 1120.12 L1424 1117.95 L1425 1115.85 L1426 1113.81 L1427 1111.83 L1428 1109.91 L1429 1108.06 L1430 1106.28 L1431 1104.56 L1432 1102.91 L1433 1101.32 L1434 1099.8 L1435 1098.34 L1436 1096.94 L1437 1095.6 L1438 1094.27 L1439 1092.93 L1440 1091.61 L1441 1090.33 L1442 1089.14 L1443 1088.07 L1444 1087.14 L1445 1086.4 L1446 1085.76 L1447 1085.12 L1448 1084.52 L1449 1083.96 L1450 1083.48 L1451 1083.08 L1452 1082.79 L1453 1082.63 L1454 1082.61 L1455 1082.71 L1456 1082.92 L1457 1083.2 L1458 1083.55 L1459 1083.95 L1460 1084.37 L1461 1084.8 L1462 1085.3 L1463 1085.91 L1464 1086.63 L1465 1087.43 L1466 1088.28 L1467 1089.18 L1468 1090.18 L1469 1091.28 L1470 1092.48 L1471 1093.76 L1472 1095.1 L1473 1096.48 L1474 1097.9 L1475 1099.33 L1476 1100.81 L1477 1102.35 L1478 1103.96 L1479 1105.64 L1480 1107.4 L1481 1109.24 L1482 1111.18 L1483 1113.25 L1484 1115.44 L1485 1117.73 L1486 1120.1 L1487 1122.54 L1488 1125.02 L1489 1127.52 L1490 1130.02 L1491 1132.51 L1492 1134.97 L1493 1137.4 L1494 1139.85 L1495 1142.33 L1496 1144.82 L1497 1147.32 L1498 1149.83 L1499 1152.34 L1500 1154.85 L1501 1157.34 L1502 1159.82 L1503 1162.27 L1504 1164.7 L1505 1167.14 L1506 1169.58 L1507 1172.01 L1508 1174.44 L1509 1176.85 L1510 1179.25 L1511 1181.62 L1512 1183.98 L1513 1186.3 L1514 1188.59 L1515 1190.85 L1516 1193.13 L1517 1195.44 L1518 1197.76 L1519 1200.06 L1520 1202.32 L1521 1204.53 L1522 1206.65 L1523 1208.66 L1524 1210.54 L1525 1212.26 L1526 1213.83 L1527 1215.36 L1528 1216.84 L1529 1218.26 L1530 1219.62 L1531 1220.91 L1532 1222.11 L1533 1223.23 L1534 1224.24 L1535 1225.14 L1536 1225.93 L1537 1226.69 L1538 1227.46 L1539 1228.21 L1540 1228.93 L1541 1229.61 L1542 1230.24 L1543 1230.8 L1544 1231.27 L1545 1231.65 L1546 1231.93 L1547 1232.07 L1548 1232.1 L1549 1232.1 L1550 1232.1 L1551 1232.1 L1552 1232.1 L1553 1232.1 L1554 1232.1 L1555 1232.1 L1556 1232.02 L1557 1231.79 L1558 1231.44 L1559 1230.97 L1560 1230.42 L1561 1229.8 L1562 1229.13 L1563 1228.43 L1564 1227.72 L1565 1227.01 L1566 1226.19 L1567 1225.26 L1568 1224.22 L1569 1223.08 L1570 1221.87 L1571 1220.59 L1572 1219.27 L1573 1217.9 L1574 1216.52 L1575 1215.1 L1576 1213.61 L1577 1212.03 L1578 1210.39 L1579 1208.68 L1580 1206.91 L1581 1205.08 L1582 1203.2 L1583 1201.29 L1584 1199.33 L1585 1197.35 L1586 1195.34 L1587 1193.31 L1588 1191.27 L1589 1189.22 L1590 1187.17 L1591 1185.12 L1592 1183.08 L1593 1180.99 L1594 1178.85 L1595 1176.66 L1596 1174.44 L1597 1172.19 L1598 1169.93 L1599 1167.65 L1600 1165.38 L1601 1163.11 L1602 1160.86 L1603 1158.64 L1604 1156.43 L1605 1154.2 L1606 1151.96 L1607 1149.72 L1608 1147.48 L1609 1145.26 L1610 1143.06 L1611 1140.9 L1612 1138.78 L1613 1136.71 L1614 1134.69 L1615 1132.67 L1616 1130.65 L1617 1128.63 L1618 1126.63 L1619 1124.66 L1620 1122.74 L1621 1120.87 L1622 1119.07 L1623 1117.35 L1624 1115.72 L1625 1114.2 L1626 1112.79 L1627 1111.43 L1628 1110.1 L1629 1108.82 L1630 1107.6 L1631 1106.43 L1632 1105.33 L1633 1104.31 L1634 1103.37 L1635 1102.53 L1636 1101.78 L1637 1101.05 L1638 1100.32 L1639 1099.59 L1640 1098.89 L1641 1098.22 L1642 1097.6 L1643 1097.03 L1644 1096.53 L1645 1096.12 L1646 1095.8 L1647 1095.59 L1648 1095.5 L1649 1095.51 L1650 1095.57 L1651 1095.67 L1652 1095.8 L1653 1095.96 L1654 1096.15 L1655 1096.37 L1656 1096.6 L1657 1096.86 L1658 1097.13 L1659 1097.5 L1660 1098.02 L1661 1098.67 L1662 1099.45 L1663 1100.32 L1664 1101.27 L1665 1102.29 L1666 1103.36 L1667 1104.46 L1668 1105.57 L1669 1106.69 L1670 1107.83 L1671 1109.06 L1672 1110.38 L1673 1111.77 L1674 1113.24 L1675 1114.78 L1676 1116.4 L1677 1118.07 L1678 1119.81 L1679 1121.61 L1680 1123.47 L1681 1125.45 L1682 1127.57 L1683 1129.82 L1684 1132.17 L1685 1134.61 L1686 1137.13 L1687 1139.7 L1688 1142.31 L1689 1144.95 L1690 1147.59 L1691 1150.23 L1692 1152.85 L1693 1155.5 L1694 1158.21 L1695 1160.95 L1696 1163.74 L1697 1166.56 L1698 1169.41 L1699 1172.28 L1700 1175.17 L1701 1178.08 L1702 1180.99 L1703 1183.93 L1704 1186.91 L1705 1189.93 L1706 1192.97 L1707 1196.02 L1708 1199.09 L1709 1202.17 L1710 1205.25 L1711 1208.32 L1712 1211.38 L1713 1214.42 L1714 1217.47 L1715 1220.52 L1716 1223.58 L1717 1226.64 L1718 1229.7 L1719 1232.75 L1720 1235.8 L1721 1238.84 L1722 1241.87 L1723 1244.89 L1724 1247.9 L1725 1250.91 L1726 1253.93 L1727 1256.95 L1728 1259.98 L1729 1263 L1730 1265.99 L1731 1268.96 L1732 1271.9 L1733 1274.79 L1734 1277.62 L1735 1280.4 L1736 1283.12 L1737 1285.81 L1738 1288.45 L1739 1291.07 L1740 1293.65 L1741 1296.2 L1742 1298.72 L1743 1301.22 L1744 1303.69 L1745 1306.14 L1746 1308.57 L1747 1310.99 L1748 1313.4 L1749 1315.8 L1750 1318.18 L1751 1320.54 L1752 1322.87 L1753 1325.17 L1754 1327.44 L1755 1329.66 L1756 1331.83 L1757 1333.96 L1758 1336.03 L1759 1338.08 L1760 1340.09 L1761 1342.08 L1762 1344.03 L1763 1345.94 L1764 1347.81 L1765 1349.64 L1766 1351.42 L1767 1353.16 L1768 1354.84 L1769 1356.49 L1770 1358.17 L1771 1359.84 L1772 1361.49 L1773 1363.08 L1774 1364.6 L1775 1366.03 L1776 1367.34 L1777 1368.5 L1778 1369.5 L1779 1370.42 L1780 1371.34 L1781 1372.25 L1782 1373.14 L1783 1373.98 L1784 1374.76 L1785 1375.48 L1786 1376.1 L1787 1376.62 L1788 1377.02 L1789 1377.28 L1790 1377.4 L1791 1377.4 L1792 1377.38 L1793 1377.36 L1794 1377.32 L1795 1377.28 L1796 1377.23 L1797 1377.18 L1798 1377.11 L1799 1377.04 L1800 1376.96 L1801 1376.82 L1802 1376.59 L1803 1376.31 L1804 1375.96 L1805 1375.56 L1806 1375.13 L1807 1374.66 L1808 1374.16 L1809 1373.65 L1810 1373.13 L1811 1372.61 L1812 1372.1 L1813 1371.58 L1814 1371.01 L1815 1370.4 L1816 1369.75 L1817 1369.07 L1818 1368.37 L1819 1367.66 L1820 1366.94 L1821 1366.22 L1822 1365.5 L1823 1364.8 L1824 1364.11 L1825 1363.4 L1826 1362.69 L1827 1361.98 L1828 1361.26 L1829 1360.54 L1830 1359.81 L1831 1359.09 L1832 1358.36 L1833 1357.64 L1834 1356.92 L1835 1356.19 L1836 1355.45 L1837 1354.7 L1838 1353.94 L1839 1353.18 L1840 1352.42 L1841 1351.67 L1842 1350.95 L1843 1350.24 L1844 1349.56 L1845 1348.91 L1846 1348.3 L1847 1347.69 L1848 1347.1 L1849 1346.52 L1850 1345.95 L1851 1345.4 L1852 1344.87 L1853 1344.37 L1854 1343.88 L1855 1343.43 L1856 1343 L1857 1342.6 L1858 1342.19 L1859 1341.76 L1860 1341.34 L1861 1340.92 L1862 1340.53 L1863 1340.17 L1864 1339.85 L1865 1339.58 L1866 1339.38 L1867 1339.25 L1868 1339.2 L1869 1339.2 L1870 1339.2 L1871 1339.2 L1872 1339.2 L1873 1339.2 L1874 1339.2 L1875 1339.2 L1876 1339.2 L1877 1339.2 L1878 1339.2 L1879 1339.22 L1880 1339.33 L1881 1339.52 L1882 1339.79 L1883 1340.13 L1884 1340.52 L1885 1340.96 L1886 1341.42 L1887 1341.91 L1888 1342.41 L1889 1342.91 L1890 1343.4 L1891 1343.95 L1892 1344.57 L1893 1345.25 L1894 1345.98 L1895 1346.75 L1896 1347.55 L1897 1348.37 L1898 1349.21 L1899 1350.05 L1900 1350.89 L1901 1351.71 L1902 1352.56 L1903 1353.43 L1904 1354.31 L1905 1355.22 L1906 1356.14 L1907 1357.08 L1908 1358.04 L1909 1359.01 L1910 1360 L1911 1361 L1912 1362.02 L1913 1363.07 L1914 1364.15 L1915 1365.26 L1916 1366.38 L1917 1367.52 L1918 1368.66 L1919 1369.81 L1920 1370.96 L1921 1372.1 L1922 1373.24 L1923 1374.36 L1924 1375.48 L1925 1376.61 L1926 1377.73 L1927 1378.86 L1928 1379.98 L1929 1381.11 L1930 1382.24 L1931 1383.36 L1932 1384.49 L1933 1385.61 L1934 1386.74 L1935 1387.87 L1936 1389 L1937 1390.14 L1938 1391.29 L1939 1392.43 L1940 1393.56 L1941 1394.68 L1942 1395.79 L1943 1396.89 L1944 1397.96 L1945 1399.02 L1946 1400.06 L1947 1401.09 L1948 1402.11 L1949 1403.11 L1950 1404.11 L1951 1405.09 L1952 1406.07 L1953 1407.04 L1954 1408.01 L1955 1408.96 L1956 1409.91 L1957 1410.86 L1958 1411.82 L1959 1412.78 L1960 1413.73 L1961 1414.68 L1962 1415.61 L1963 1416.52 L1964 1417.41 L1965 1418.26 L1966 1419.08 L1967 1419.85 L1968 1420.6 L1969 1421.32 L1970 1422.03 L1971 1422.71 L1972 1423.37 L1973 1424.02 L1974 1424.65 L1975 1425.26 L1976 1425.86 L1977 1426.44 L1978 1427.01 L1979 1427.57 L1980 1428.12 L1981 1428.66 L1982 1429.18 L1983 1429.69 L1984 1430.19 L1985 1430.67 L1986 1431.14 L1987 1431.59 L1988 1432.01 L1989 1432.42 L1990 1432.83 L1991 1433.25 L1992 1433.67 L1993 1434.08 L1994 1434.46 L1995 1434.83 L1996 1435.16 L1997 1435.44 L1998 1435.68 L1999 1435.86 L2000 1435.99 L2001 1436.11 L2002 1436.23 L2003 1436.34 L2004 1436.44 L2005 1436.53 L2006 1436.61 L2007 1436.67 L2008 1436.73 L2009 1436.77 L2010 1436.79 L2011 1436.8 L2012 1436.76 L2013 1436.68 L2014 1436.54 L2015 1436.37 L2016 1436.17 L2017 1435.94 L2018 1435.7 L2019 1435.46 L2020 1435.21 L2021 1434.98 L2022 1434.73 L2023 1434.46 L2024 1434.17 L2025 1433.87 L2026 1433.54 L2027 1433.21 L2028 1432.86 L2029 1432.5 L2030 1432.13 L2031 1431.76 L2032 1431.38 L2033 1431 L2034 1430.61 L2035 1430.18 L2036 1429.74 L2037 1429.28 L2038 1428.81 L2039 1428.34 L2040 1427.87 L2041 1427.4 L2042 1426.95 L2043 1426.52 L2044 1426.12 L2045 1425.74 L2046 1425.37 L2047 1425.02 L2048 1424.68 L2049 1424.35 L2050 1424.02 L2051 1423.7 L2052 1423.38 L2053 1423.06 L2054 1422.73 L2055 1422.4 L2056 1422.05 L2057 1421.68 L2058 1421.28 L2059 1420.89 L2060 1420.5 L2061 1420.12 L2062 1419.76 L2063 1419.44 L2064 1419.17 L2065 1418.95 L2066 1418.79 L2067 1418.66 L2068 1418.54 L2069 1418.42 L2070 1418.31 L2071 1418.21 L2072 1418.13 L2073 1418.05 L2074 1417.99 L2075 1417.94 L2076 1417.91 L2077 1417.9 L2078 1417.92 L2079 1417.99 L2080 1418.1 L2081 1418.25 L2082 1418.43 L2083 1418.64 L2084 1418.86 L2085 1419.1 L2086 1419.34 L2087 1419.58 L2088 1419.82 L2089 1420.1 L2090 1420.41 L2091 1420.75 L2092 1421.12 L2093 1421.52 L2094 1421.93 L2095 1422.35 L2096 1422.79 L2097 1423.23 L2098 1423.67 L2099 1424.11 L2100 1424.55 L2101 1425.01 L2102 1425.49 L2103 1425.98 L2104 1426.48 L2105 1426.98 L2106 1427.5 L2107 1428.02 L2108 1428.55 L2109 1429.07 L2110 1429.6 L2111 1430.13 L2112 1430.65 L2113 1431.19 L2114 1431.72 L2115 1432.26 L2116 1432.81 L2117 1433.37 L2118 1433.93 L2119 1434.5 L2120 1435.07 L2121 1435.66 L2122 1436.26 L2123 1436.87 L2124 1437.49 L2125 1438.11 L2126 1438.75 L2127 1439.4 L2128 1440.05 L2129 1440.71 L2130 1441.38 L2131 1442.06 L2132 1442.75 L2133 1443.45 L2134 1444.16 L2135 1444.9 L2136 1445.64 L2137 1446.39 L2138 1447.15 L2139 1447.92 L2140 1448.69 L2141 1449.45 L2142 1450.22 L2143 1450.97 L2144 1451.72 L2145 1452.47 L2146 1453.22 L2147 1453.96 L2148 1454.7 L2149 1455.45 L2150 1456.19 L2151 1456.94 L2152 1457.7 L2153 1458.46 L2154 1459.22 L2155 1460 L2156 1460.78 L2157 1461.57 L2158 1462.37 L2159 1463.17 L2160 1463.98 L2161 1464.78 L2162 1465.57 L2163 1466.37 L2164 1467.15 L2165 1467.92 L2166 1468.68 L2167 1469.44 L2168 1470.21 L2169 1470.97 L2170 1471.72 L2171 1472.47 L2172 1473.21 L2173 1473.94 L2174 1474.65 L2175 1475.34 L2176 1476.01 L2177 1476.66 L2178 1477.29 L2179 1477.91 L2180 1478.51 L2181 1479.11 L2182 1479.69 L2183 1480.26 L2184 1480.82 L2185 1481.36 L2186 1481.89 L2187 1482.4 L2188 1482.9 L2189 1483.38 L2190 1483.85 L2191 1484.32 L2192 1484.77 L2193 1485.21 L2194 1485.64 L2195 1486.07 L2196 1486.48 L2197 1486.9 L2198 1487.3 L2199 1487.7 L2200 1488.1 L2201 1488.49 L2202 1488.89 L2203 1489.27 L2204 1489.65 L2205 1490.02 L2206 1490.39 L2207 1490.74 L2208 1491.08 L2209 1491.41 L2210 1491.72 L2211 1492.04 L2212 1492.35 L2213 1492.67 L2214 1492.98 L2215 1493.3 L2216 1493.61 L2217 1493.91 L2218 1494.22 L2219 1494.51 L2220 1494.8 L2221 1495.09 L2222 1495.36 L2223 1495.63 L2224 1495.88 L2225 1496.13 L2226 1496.36 L2227 1496.58 L2228 1496.78 L2229 1496.97 L2230 1497.14 L2231 1497.3 L2232 1497.44 L2233 1497.57 L2234 1497.7 L2235 1497.82 L2236 1497.93 L2237 1498.05 L2238 1498.15 L2239 1498.26 L2240 1498.36 L2241 1498.45 L2242 1498.54 L2243 1498.63 L2244 1498.72 L2245 1498.8 L2246 1498.88 L2247 1498.95 L2248 1499.03 L2249 1499.1 L2250 1499.16 L2251 1499.23 L2252 1499.29 L2253 1499.36 L2254 1499.42 L2255 1499.48 L2256 1499.54 L2257 1499.59 L2258 1499.65 L2259 1499.7 L2260 1499.75 L2261 1499.8 L2262 1499.85 L2263 1499.9 L2264 1499.95 L2265 1499.99 L2266 1500.04 L2267 1500.08 L2268 1500.12 L2269 1500.16 L2270 1500.2 L2271 1500.24 L2272 1500.28 L2273 1500.31 L2274 1500.34 L2275 1500.38 L2276 1500.41 L2277 1500.43 L2278 1500.46 L2279 1500.49 L2280 1500.51 L2281 1500.53 L2282 1500.55 L2283 1500.57 L2284 1500.59 L2285 1500.6 L2286 1500.62 L2287 1500.64 L2288 1500.66 L2289 1500.68 L2290 1500.7 L2291 1500.72 L2292 1500.74 L2293 1500.76 L2294 1500.79 L2295 1500.81 L2296 1500.84 L2297 1500.87 L2298 1500.91 L2299 1500.95 L2300 1500.99 L2301 1501.04 L2302 1501.09 L2303 1501.14 L2304 1501.2 L2305 1501.27 L2306 1501.34 L2307 1501.41 L2308 1501.48 L2309 1501.56 L2310 1501.64 L2311 1501.73 L2312 1501.82 L2313 1501.91 L2314 1502 L2315 1502.1 L2316 1502.19 L2317 1502.3 L2318 1502.4 L2319 1502.5 L2320 1502.61 L2321 1502.72 L2322 1502.85 L2323 1502.98 L2324 1503.12 L2325 1503.27 L2326 1503.43 L2327 1503.6 L2328 1503.77 L2329 1503.95 L2330 1504.13 L2331 1504.32 L2332 1504.52 L2333 1504.72 L2334 1504.92 L2335 1505.12 L2336 1505.33 L2337 1505.54 L2338 1505.75 L2339 1505.96 L2340 1506.18 L2341 1506.39 L2342 1506.6 L2343 1506.81 L2344 1507.03 L2345 1507.26 L2346 1507.49 L2347 1507.73 L2348 1507.97 L2349 1508.21 L2350 1508.46 L2351 1508.71 L2352 1508.97 L2353 1509.23 L2354 1509.49 L2355 1509.75 L2356 1510.02 L2357 1510.29 L2358 1510.56 L2359 1510.83 L2360 1511.1 L2361 1511.38 L2362 1511.65 L2363 1511.93 L2364 1512.2 L2365 1512.48 L2366 1512.76 L2367 1513.06 L2368 1513.35 L2369 1513.65 L2370 1513.96 L2371 1514.27 L2372 1514.58 L2373 1514.89 L2374 1515.2 L2375 1515.52 L2376 1515.83 L2377 1516.14 L2378 1516.45 L2379 1516.76 L2380 1517.06 L2381 1517.36 L2382 1517.66 L2383 1517.95 L2384 1518.23 L2385 1518.51 L2386 1518.77 L2387 1519.04 L2388 1519.3 L2389 1519.56 L2390 1519.82 L2391 1520.07 L2392 1520.33 L2393 1520.58 L2394 1520.83 L2395 1521.08 L2396 1521.32 L2397 1521.56 L2398 1521.8 L2399 1522.04 L2400 1522.27 L2401 1522.49 L2402 1522.71 L2403 1522.93 L2404 1523.14 L2405 1523.35 L2406 1523.56 L2407 1523.75 L2408 1523.94 L2409 1524.13 L2410 1524.31 L2411 1524.49 L2412 1524.67 L2413 1524.85 L2414 1525.02 L2415 1525.19 L2416 1525.36 L2417 1525.52 L2418 1525.68 L2419 1525.84 L2420 1526 L2421 1526.15 L2422 1526.3 L2423 1526.44 L2424 1526.59 L2425 1526.73 L2426 1526.86 L2427 1527 L2428 1527.13 L2429 1527.25 L2430 1527.38 L2431 1527.5 L2432 1527.63 L2433 1527.75 L2434 1527.89 L2435 1528.02 L2436 1528.16 L2437 1528.29 L2438 1528.42 L2439 1528.55 L2440 1528.68 L2441 1528.8 L2442 1528.92 L2443 1529.03 L2444 1529.13 L2445 1529.23 L2446 1529.32 L2447 1529.39 L2448 1529.46 L2449 1529.51 L2450 1529.56 L2451 1529.58 L2452 1529.6 L2453 1529.6 L2454 1529.6 L2455 1529.6 L2456 1529.6 L2457 1529.6 L2458 1529.6 L2459 1529.6 L2460 1529.6 L2461 1529.6 L2462 1529.6 L2463 1529.6 L2464 1529.6 L2465 1529.6 L2466 1529.6 L2467 1529.6 L2468 1529.6 L2469 1529.6 L2470 1529.6 L2471 1529.6 L2472 1529.6 L2473 1529.6 L2474 1529.6 L2475 1529.6 L2476 1529.6 L2477 1529.6 L2478 1529.6 L2479 1529.6 L2480 1529.6 L2481 1529.6 L2482 1529.6 L2483 1529.6 L2484 1529.6 L2485 1529.6 L2486 1529.6 L2487 1529.6 L2488 1529.6 L2489 1529.6 L2490 1529.6 L2491 1529.6 L2492 1529.6 L2493 1529.6 L2494 1529.6 L2495 1529.6 L2496 1529.6 L2497 1529.6 L2498 1529.61 L2499 1529.63 L2500 1529.66 L2501 1529.7 L2502 1529.74 L2503 1529.79 L2504 1529.85 L2505 1529.91 L2506 1529.97 L2507 1530.04 L2508 1530.11 L2509 1530.18 L2510 1530.26 L2511 1530.33 L2512 1530.4 L2513 1530.47 L2514 1530.54 L2515 1530.6 L2516 1530.67 L2517 1530.72 L2518 1530.77 L2519 1530.82 L2520 1530.86 L2521 1530.9 L2522 1530.93 L2523 1530.97 L2524 1531 L2525 1531.04 L2526 1531.07 L2527 1531.1 L2528 1531.13 L2529 1531.16 L2530 1531.19 L2531 1531.23 L2532 1531.26 L2533 1531.29 L2534 1531.33 L2535 1531.36 L2536 1531.4 L2537 1531.44 L2538 1531.48 L2539 1531.52 L2540 1531.57 L2541 1531.62 L2542 1531.67 L2543 1531.73 L2544 1531.79 L2545 1531.86 L2546 1531.93 L2547 1532 L2548 1532.07 L2549 1532.15 L2550 1532.23 L2551 1532.31 L2552 1532.39 L2553 1532.48 L2554 1532.57 L2555 1532.66 L2556 1532.75 L2557 1532.85 L2558 1532.94 L2559 1533.04 L2560 1533.13 L2561 1533.23 L2562 1533.33 L2563 1533.43 L2564 1533.53 L2565 1533.64 L2566 1533.75 L2567 1533.87 L2568 1533.99 L2569 1534.11 L2570 1534.23 L2571 1534.36 L2572 1534.49 L2573 1534.62 L2574 1534.76 L2575 1534.89 L2576 1535.03 L2577 1535.16 L2578 1535.3 L2579 1535.43 L2580 1535.57 L2581 1535.7 L2582 1535.84 L2583 1535.97 L2584 1536.1 L2585 1536.23 L2586 1536.35 L2587 1536.48 L2588 1536.6 L2589 1536.72 L2590 1536.84 L2591 1536.97 L2592 1537.09 L2593 1537.21 L2594 1537.33 L2595 1537.45 L2596 1537.57 L2597 1537.7 L2598 1537.82 L2599 1537.95 L2600 1538.07 L2601 1538.2 L2602 1538.33 L2603 1538.46 L2604 1538.6 L2605 1538.73 L2606 1538.87 L2607 1539.01 L2608 1539.16 L2609 1539.31 L2610 1539.45 L2611 1539.61 L2612 1539.76 L2613 1539.92 L2614 1540.08 L2615 1540.24 L2616 1540.4 L2617 1540.56 L2618 1540.73 L2619 1540.89 L2620 1541.06 L2621 1541.23 L2622 1541.4 L2623 1541.57 L2624 1541.74 L2625 1541.91 L2626 1542.08 L2627 1542.26 L2628 1542.43 L2629 1542.6 L2630 1542.77 L2631 1542.95 L2632 1543.13 L2633 1543.32 L2634 1543.51 L2635 1543.7 L2636 1543.89 L2637 1544.08 L2638 1544.28 L2639 1544.47 L2640 1544.67 L2641 1544.86 L2642 1545.05 L2643 1545.24 L2644 1545.43 L2645 1545.62 L2646 1545.81 L2647 1545.99 L2648 1546.17 L2649 1546.34 L2650 1546.51 L2651 1546.67 L2652 1546.83 L2653 1546.99 L2654 1547.13 L2655 1547.28 L2656 1547.43 L2657 1547.58 L2658 1547.73 L2659 1547.87 L2660 1548.02 L2661 1548.16 L2662 1548.31 L2663 1548.45 L2664 1548.59 L2665 1548.73 L2666 1548.87 L2667 1549 L2668 1549.13 L2669 1549.26 L2670 1549.39 L2671 1549.52 L2672 1549.64 L2673 1549.76 L2674 1549.87 L2675 1549.99 L2676 1550.09 L2677 1550.2 L2678 1550.3 L2679 1550.4 L2680 1550.49 L2681 1550.58 L2682 1550.67 L2683 1550.75 L2684 1550.82 L2685 1550.9 L2686 1550.97 L2687 1551.04 L2688 1551.1 L2689 1551.17 L2690 1551.24 L2691 1551.3 L2692 1551.36 L2693 1551.42 L2694 1551.48 L2695 1551.54 L2696 1551.6 L2697 1551.65 L2698 1551.71 L2699 1551.76 L2700 1551.81 L2701 1551.86 L2702 1551.91 L2703 1551.96 L2704 1552.01 L2705 1552.06 L2706 1552.11 L2707 1552.16 L2708 1552.2 L2709 1552.25 L2710 1552.29 L2711 1552.34 L2712 1552.38 L2713 1552.42 L2714 1552.47 L2715 1552.51 L2716 1552.55 L2717 1552.6 L2718 1552.64 L2719 1552.68 L2720 1552.72 L2721 1552.76 L2722 1552.81 L2723 1552.85 L2724 1552.89 L2725 1552.94 L2726 1552.98 L2727 1553.02 L2728 1553.06 L2729 1553.11 L2730 1553.15 L2731 1553.19 L2732 1553.23 L2733 1553.27 L2734 1553.31 L2735 1553.35 L2736 1553.39 L2737 1553.42 L2738 1553.46 L2739 1553.5 L2740 1553.54 L2741 1553.57 L2742 1553.61 L2743 1553.64 L2744 1553.68 L2745 1553.71 L2746 1553.75 L2747 1553.78 L2748 1553.82 L2749 1553.85 L2750 1553.89 L2751 1553.92 L2752 1553.95 L2753 1553.99 L2754 1554.02 L2755 1554.05 L2756 1554.09 L2757 1554.12 L2758 1554.15 L2759 1554.19 L2760 1554.22 L2761 1554.25 L2762 1554.29 L2763 1554.32 L2764 1554.35 L2765 1554.38 L2766 1554.42 L2767 1554.45 L2768 1554.49 L2769 1554.52 L2770 1554.55 L2771 1554.59 L2772 1554.62 L2773 1554.66 L2774 1554.69 L2775 1554.73 L2776 1554.76 L2777 1554.8 L2778 1554.83 L2779 1554.87 L2780 1554.91 L2781 1554.94 L2782 1554.98 L2783 1555.02 L2784 1555.06 L2785 1555.1 L2786 1555.14 L2787 1555.18 L2788 1555.22 L2789 1555.26 L2790 1555.3 L2791 1555.34 L2792 1555.39 L2793 1555.43 L2794 1555.47 L2795 1555.52 L2796 1555.56 L2797 1555.61 L2798 1555.66 L2799 1555.7 L2800 1555.75 L2801 1555.8 L2802 1555.85 L2803 1555.89 L2804 1555.94 L2805 1555.99 L2806 1556.04 L2807 1556.09 L2808 1556.15 L2809 1556.2 L2810 1556.25 L2811 1556.3 L2812 1556.35 L2813 1556.41 L2814 1556.46 L2815 1556.52 L2816 1556.57 L2817 1556.63 L2818 1556.68 L2819 1556.74 L2820 1556.79 L2821 1556.85 L2822 1556.91 L2823 1556.96 L2824 1557.02 L2825 1557.08 L2826 1557.14 L2827 1557.2 L2828 1557.26 L2829 1557.32 L2830 1557.38 L2831 1557.44 L2832 1557.5 L2833 1557.56 L2834 1557.62 L2835 1557.68 L2836 1557.74 L2837 1557.8 L2838 1557.87 L2839 1557.93 L2840 1557.99 L2841 1558.05 L2842 1558.12 L2843 1558.18 L2844 1558.25 L2845 1558.31 L2846 1558.37 L2847 1558.44 L2848 1558.5 L2849 1558.57 L2850 1558.63 L2851 1558.7"/>
</g>
<path stroke="#f00" stroke-width="2.15" fill="none" d="M616.6 1361.9h25.4M616.6 1546.8h25.4M676.2 1099.3h25.4M676.2 1463.2h25.4M718.4 1310h25.4M718.4 1495.7h25.4M751.2 1076.1h25.4M751.2 1400.4h25.4M778 1381.1h25.4M778 1500.7h25.4M800.5 1213.9h25.4M800.5 1423.2h25.4M820.2 1383.2h25.4M820.2 1490.4h25.4M845.2 1393.2h25.4M845.2 1464.3h25.4M873.7 1370h25.4M873.7 1444.6h25.4M897.7 1387.9h25.4M897.7 1451.9h25.4M922.3 1370.9h25.4M922.3 1425.3h25.4M947.7 1405.4h25.4M947.7 1449.4h25.4M972.5 1425.9h25.4M972.5 1458.4h25.4M999.2 1372.6h25.4M999.2 1407h25.4M1035.2 1336.3h25.4M1035.2 1362.6h25.4M1072.8 1305.7h25.4M1072.8 1332.1h25.4M1080.8 1291.9h25.4M1080.8 1311.8h25.4M1115.6 1170.8h25.4M1115.6 1194.3h25.4M1137.4 972.5h25.4M1137.4 1001.4h25.4M1159.6 802.4h25.4M1159.6 836.2h25.4M1181.4 612.1h25.4M1181.4 649.8h25.4M1203.6 484.2h25.4M1203.6 523.1h25.4M1225.9 451h25.4M1225.9 488h25.4M1247.6 598.6h25.4M1247.6 629.8h25.4M1269.8 763.9h25.4M1269.8 788.9h25.4M1292.1 959.3h25.4M1292.1 977.6h25.4M1313.9 1124.9h25.4M1313.9 1137.4h25.4M1336.1 1212.6h25.4M1336.1 1222.6h25.4M1358.3 1240.9h25.4M1358.3 1250.2h25.4M1380.1 1196.2h25.4M1380.1 1206.2h25.4M1402.3 1136.1h25.4M1402.3 1147h25.4M1424.3 1081.9h25.4M1424.3 1093.6h25.4M1446.5 1086.8h25.4M1446.5 1097.2h25.4M1468.7 1104h25.4M1468.7 1114h25.4M1490.6 1157.2h25.4M1490.6 1166.4h25.4M1512.7 1208h25.4M1512.7 1216.4h25.4M1534.9 1221.7h25.4M1534.9 1229.7h25.4M1556.8 1216.9h25.4M1556.8 1224.9h25.4M1578.9 1189.3h25.4M1578.9 1197.3h25.4M1600.8 1136h25.4M1600.8 1144.4h25.4M1623 1114.8h25.4M1623 1123.2h25.4M1645.2 1091.7h25.4M1645.2 1100.1h25.4M1667 1115.4h25.4M1667 1123.8h25.4M1689.2 1176.1h25.4M1689.2 1184.1h25.4M1711.4 1244h25.4M1711.4 1251.2h25.4M1733.6 1307.7h25.4M1733.6 1314.1h25.4M1755.4 1354.6h25.4M1755.4 1360.6h25.4M1777.5 1373.3h25.4M1777.5 1378.9h25.4M1799.5 1370.3h25.4M1799.5 1375.5h25.4M1821.6 1354.1h25.4M1821.6 1359.3h25.4M1843.8 1343.9h25.4M1843.8 1348.9h25.4M1865.7 1337.5h25.4M1865.7 1342.5h25.4M1887.8 1350h25.4M1887.8 1354.8h25.4M1909.8 1368.9h25.4M1909.8 1373.7h25.4M1931.9 1395.1h25.4M1931.9 1399.7h25.4M1954.1 1417.2h25.4M1954.1 1421.8h25.4M1976 1429.2h25.4M1976 1433.6h25.4M1998.2 1437.4h25.4M1998.2 1441.8h25.4M2020.3 1426.3h25.4M2020.3 1430.7h25.4M2042.3 1425.8h25.4M2042.3 1430.2h25.4M2064.4 1414.8h25.4M2064.4 1419.2h25.4M2086.5 1422h25.4M2086.5 1426.4h25.4M2108.7 1431h25.4M2108.7 1435.4h25.4M2130.6 1443.2h25.4M2130.6 1447.6h25.4M2152.8 1463.4h25.4M2152.8 1467.8h25.4M2174.9 1478.4h25.4M2174.9 1482.8h25.4M2196.9 1489.4h25.4M2196.9 1493.8h25.4M2219 1496h25.4M2219 1500.4h25.4M2241 1496.9h25.4M2241 1501.3h25.4M2263.1 1498.4h25.4M2263.1 1502.8h25.4M2285.1 1498.4h25.4M2285.1 1502.8h25.4M2307.2 1500.2h25.4M2307.2 1504.6h25.4M2329.3 1504.7h25.4M2329.3 1509.1h25.4M2351.3 1509.5h25.4M2351.3 1513.9h25.4M2373.4 1517.3h25.4M2373.4 1521.7h25.4M2395.6 1522.3h25.4M2395.6 1526.7h25.4M2417.5 1524.8h25.4M2417.5 1529.2h25.4M2439.7 1529h25.4M2439.7 1533.4h25.4M2461.6 1526.8h25.4M2461.6 1531.2h25.4M2483.8 1525.9h25.4M2483.8 1530.3h25.4M2505.9 1529.8h25.4M2505.9 1534.2h25.4M2527.9 1528.6h25.4M2527.9 1533h25.4M2550 1530.7h25.4M2550 1535.1h25.4M2572.1 1534.2h25.4M2572.1 1538.6h25.4M2594.2 1536.5h25.4M2594.2 1540.9h25.4M2616.3 1539.4h25.4M2616.3 1543.8h25.4M2640.4 1546.2h25.4M2640.4 1550.8h25.4M2671 1550.7h25.4M2671 1555.3h25.4M2713.8 1546.5h25.4M2713.8 1551.5h25.4M2781.9 1550.8h25.4M2781.9 1555.8h25.4"/>
<g fill="#f00" stroke="#000" stroke-width="1.8">
<circle cx="629.3" cy="1516.1" r="7.7"/>
<circle cx="688.9" cy="1379.3" r="7.7"/>
<circle cx="731.1" cy="1449.3" r="7.7"/>
<circle cx="763.9" cy="1325.7" r="7.7"/>
<circle cx="790.7" cy="1457.9" r="7.7"/>
<circle cx="813.2" cy="1349.3" r="7.7"/>
<circle cx="832.9" cy="1450.4" r="7.7"/>
<circle cx="857.9" cy="1436.4" r="7.7"/>
<circle cx="886.4" cy="1413.2" r="7.7"/>
<circle cx="910.4" cy="1427.7" r="7.7"/>
<circle cx="935" cy="1401.5" r="7.7"/>
<circle cx="960.4" cy="1428.2" r="7.7"/>
<circle cx="985.2" cy="1443" r="7.7"/>
<circle cx="1011.9" cy="1391.2" r="7.7"/>
<circle cx="1047.9" cy="1349.1" r="7.7"/>
<circle cx="1085.5" cy="1319.5" r="7.7"/>
<circle cx="1093.5" cy="1301.5" r="7.7"/>
<circle cx="1128.3" cy="1182.8" r="7.7"/>
<circle cx="1150.1" cy="987" r="7.7"/>
<circle cx="1172.3" cy="819.5" r="7.7"/>
<circle cx="1194.1" cy="630.8" r="7.7"/>
<circle cx="1216.3" cy="503.5" r="7.7"/>
<circle cx="1238.6" cy="469.3" r="7.7"/>
<circle cx="1260.3" cy="614.4" r="7.7"/>
<circle cx="1282.5" cy="776.1" r="7.7"/>
<circle cx="1304.8" cy="968.3" r="7.7"/>
<circle cx="1326.6" cy="1131" r="7.7"/>
<circle cx="1348.8" cy="1217.4" r="7.7"/>
<circle cx="1371" cy="1245.1" r="7.7"/>
<circle cx="1392.8" cy="1200.7" r="7.7"/>
<circle cx="1415" cy="1141.6" r="7.7"/>
<circle cx="1437" cy="1087.7" r="7.7"/>
<circle cx="1459.2" cy="1092" r="7.7"/>
<circle cx="1481.4" cy="1109" r="7.7"/>
<circle cx="1503.3" cy="1161.8" r="7.7"/>
<circle cx="1525.4" cy="1212.2" r="7.7"/>
<circle cx="1547.6" cy="1225.7" r="7.7"/>
<circle cx="1569.5" cy="1220.9" r="7.7"/>
<circle cx="1591.6" cy="1193.3" r="7.7"/>
<circle cx="1613.5" cy="1140.2" r="7.7"/>
<circle cx="1635.7" cy="1119" r="7.7"/>
<circle cx="1657.9" cy="1095.9" r="7.7"/>
<circle cx="1679.7" cy="1119.6" r="7.7"/>
<circle cx="1701.9" cy="1180.1" r="7.7"/>
<circle cx="1724.1" cy="1247.6" r="7.7"/>
<circle cx="1746.3" cy="1310.9" r="7.7"/>
<circle cx="1768.1" cy="1357.6" r="7.7"/>
<circle cx="1790.2" cy="1376.1" r="7.7"/>
<circle cx="1812.2" cy="1372.9" r="7.7"/>
<circle cx="1834.3" cy="1356.7" r="7.7"/>
<circle cx="1856.5" cy="1346.4" r="7.7"/>
<circle cx="1878.4" cy="1340" r="7.7"/>
<circle cx="1900.5" cy="1352.4" r="7.7"/>
<circle cx="1922.5" cy="1371.3" r="7.7"/>
<circle cx="1944.6" cy="1397.4" r="7.7"/>
<circle cx="1966.8" cy="1419.5" r="7.7"/>
<circle cx="1988.7" cy="1431.4" r="7.7"/>
<circle cx="2010.9" cy="1439.6" r="7.7"/>
<circle cx="2033" cy="1428.5" r="7.7"/>
<circle cx="2055" cy="1428" r="7.7"/>
<circle cx="2077.1" cy="1417" r="7.7"/>
<circle cx="2099.2" cy="1424.2" r="7.7"/>
<circle cx="2121.4" cy="1433.2" r="7.7"/>
<circle cx="2143.3" cy="1445.4" r="7.7"/>
<circle cx="2165.5" cy="1465.6" r="7.7"/>
<circle cx="2187.6" cy="1480.6" r="7.7"/>
<circle cx="2209.6" cy="1491.6" r="7.7"/>
<circle cx="2231.7" cy="1498.2" r="7.7"/>
<circle cx="2253.7" cy="1499.1" r="7.7"/>
<circle cx="2275.8" cy="1500.6" r="7.7"/>
<circle cx="2297.8" cy="1500.6" r="7.7"/>
<circle cx="2319.9" cy="1502.4" r="7.7"/>
<circle cx="2342" cy="1506.9" r="7.7"/>
<circle cx="2364" cy="1511.7" r="7.7"/>
<circle cx="2386.1" cy="1519.5" r="7.7"/>
<circle cx="2408.3" cy="1524.5" r="7.7"/>
<circle cx="2430.2" cy="1527" r="7.7"/>
<circle cx="2452.4" cy="1531.2" r="7.7"/>
<circle cx="2474.3" cy="1529" r="7.7"/>
<circle cx="2496.5" cy="1528.1" r="7.7"/>
<circle cx="2518.6" cy="1532" r="7.7"/>
<circle cx="2540.6" cy="1530.8" r="7.7"/>
<circle cx="2562.7" cy="1532.9" r="7.7"/>
<circle cx="2584.8" cy="1536.4" r="7.7"/>
<circle cx="2606.9" cy="1538.7" r="7.7"/>
<circle cx="2629" cy="1541.6" r="7.7"/>
<circle cx="2653.1" cy="1548.5" r="7.7"/>
<circle cx="2683.7" cy="1553" r="7.7"/>
<circle cx="2726.5" cy="1549" r="7.7"/>
<circle cx="2794.6" cy="1553.3" r="7.7"/>
</g>
<path stroke="#000" stroke-width="1.9" fill="none" d="M630.05 374.3v16.5M865.6 374.3v16.5M689.39 374.3v8.3M731.49 374.3v8.3M764.15 374.3v8.3M790.84 374.3v8.3M813.4 374.3v8.3M832.94 374.3v8.3M850.18 374.3v8.3M967.05 374.3v8.3M1026.39 374.3v8.3M1068.49 374.3v8.3M1101.15 374.3v8.3M1428.4 379v17M1784.4 379v17M2140.4 379v17M2496.4 379v17M630.05 1574.3v-16.5M865.6 1574.3v-16.5M1101.15 1574.3v-16.5M689.39 1574.3v-8.3M731.49 1574.3v-8.3M764.15 1574.3v-8.3M790.84 1574.3v-8.3M813.4 1574.3v-8.3M832.94 1574.3v-8.3M850.18 1574.3v-8.3M967.05 1574.3v-8.3M1026.39 1574.3v-8.3M1068.49 1574.3v-8.3M1219.4 1574.3v-16.5M1723.7 1574.3v-16.5M2348.6 1574.3v-16.5M527.7 1380.72h16.5M2852.8 1380.72h-16.5M527.7 1187.14h16.5M2852.8 1187.14h-16.5M527.7 993.56h16.5M2852.8 993.56h-16.5M527.7 799.98h16.5M2852.8 799.98h-16.5M527.7 606.4h16.5M2852.8 606.4h-16.5M527.7 412.82h16.5M2852.8 412.82h-16.5"/>
<rect x="527.7" y="374.3" width="2325.1" height="1200" fill="none" stroke="#000" stroke-width="4.2"/>
<g font-family="Liberation Sans, sans-serif" fill="#000">
<text transform="matrix(0.9895 0 0 1.0369 1202.19 232.9)" font-size="100" stroke="#000" stroke-width="0.9">M</text>
<text transform="matrix(0.8119 0 0 0.8393 1288.23 232.9)" font-size="100" stroke="#000" stroke-width="0.9">u</text>
<text transform="matrix(0.8067 0 0 0.9845 1338.67 232.9)" font-size="100" stroke="#000" stroke-width="0.9">l</text>
<text transform="matrix(0.9864 0 0 0.8677 1359.71 232.9)" font-size="100" stroke="#000" stroke-width="0.9">t</text>
<rect x="1367.8" y="188.2" width="22" height="6.7"/>
<rect x="1401.1" y="188.6" width="8.8" height="44.3"/>
<rect x="1401.1" y="164.8" width="8.8" height="8.9"/>
<text transform="matrix(0.8537 0 0 0.8393 1419.6 232.9)" font-size="100" stroke="#000" stroke-width="0.9">p</text>
<text transform="matrix(0.9190 0 0 0.8393 1468.15 232.9)" font-size="100" stroke="#000" stroke-width="0.9">o</text>
<text transform="matrix(0.8067 0 0 0.9845 1521.27 232.9)" font-size="100" stroke="#000" stroke-width="0.9">l</text>
<text transform="matrix(0.8181 0 0 0.8393 1540.63 232.9)" font-size="100" stroke="#000" stroke-width="0.9">e</text>
<text transform="matrix(0.8819 0 0 0.8393 1620.05 232.9)" font-size="100" stroke="#000" stroke-width="0.9">m</text>
<text transform="matrix(0.9190 0 0 0.8393 1694.75 232.9)" font-size="100" stroke="#000" stroke-width="0.9">o</text>
<text transform="matrix(0.8819 0 0 0.8393 1746.65 232.9)" font-size="100" stroke="#000" stroke-width="0.9">m</text>
<text transform="matrix(0.7947 0 0 0.8393 1822.23 232.9)" font-size="100" stroke="#000" stroke-width="0.9">e</text>
<text transform="matrix(0.8166 0 0 0.8393 1868.08 232.9)" font-size="100" stroke="#000" stroke-width="0.9">n</text>
<text transform="matrix(0.9864 0 0 0.8677 1916.71 232.9)" font-size="100" stroke="#000" stroke-width="0.9">t</text>
<rect x="1924.8" y="188.2" width="22" height="6.7"/>
<text transform="matrix(0.8854 0 0 0.9001 1952.05 234.29)" font-size="100" stroke="#000" stroke-width="0.9">,</text>
<text transform="matrix(0.8774 0 0 1.0384 1354.69 1750.5)" font-size="100" stroke="#000" stroke-width="0.9">A</text>
<text transform="matrix(0.8042 0 0 0.8582 1419 1750.5)" font-size="100" stroke="#000" stroke-width="0.9">n</text>
<text transform="matrix(0.9671 0 0 0.8582 1465.74 1750.5)" font-size="100" stroke="#000" stroke-width="0.9">g</text>
<text transform="matrix(0.7768 0 0 0.8582 1519.55 1750.5)" font-size="100" stroke="#000" stroke-width="0.9">u</text>
<text transform="matrix(0.8363 0 0 0.9859 1567.92 1750.5)" font-size="100" stroke="#000" stroke-width="0.9">l</text>
<text transform="matrix(0.6651 0 0 0.8582 1590.55 1750.5)" font-size="100" stroke="#000" stroke-width="0.9">a</text>
<text transform="matrix(0.9468 0 0 0.8582 1634.89 1750.5)" font-size="100" stroke="#000" stroke-width="0.9">r</text>
<text transform="matrix(0.7407 0 0 0.8582 1699.27 1750.5)" font-size="100" stroke="#000" stroke-width="0.9">s</text>
<text transform="matrix(0.7924 0 0 0.8582 1738.06 1750.5)" font-size="100" stroke="#000" stroke-width="0.9">c</text>
<text transform="matrix(0.6651 0 0 0.8582 1781.74 1750.5)" font-size="100" stroke="#000" stroke-width="0.9">a</text>
<text transform="matrix(0.8363 0 0 0.9859 1829.06 1750.5)" font-size="100" stroke="#000" stroke-width="0.9">l</text>
<text transform="matrix(0.8026 0 0 0.8582 1849.94 1750.5)" font-size="100" stroke="#000" stroke-width="0.9">e</text>
<text transform="matrix(0.9917 0 0 1.0000 597.08 354.8)" font-size="72.6">2</text>
<text transform="matrix(0.9076 0 0 1.0000 816.98 354.8)" font-size="72.6">10</text>
<text transform="matrix(0.8852 0 0 1.0000 1054.03 354.8)" font-size="72.6">50</text>
<text transform="matrix(0.8892 0 0 1.0000 1361.42 354.8)" font-size="72.6">500</text>
<text transform="matrix(0.8835 0 0 1.0000 1699.51 354.8)" font-size="72.6">1000</text>
<text transform="matrix(0.8724 0 0 1.0000 2057.28 354.8)" font-size="72.6">1500</text>
<text transform="matrix(0.8767 0 0 1.0000 2412.2 354.8)" font-size="72.6">2000</text>
<text transform="matrix(0.8902 0 0 1.0000 2766.75 354.8)" font-size="72.6">2500</text>
<text transform="matrix(0.8587 0 0 1.0000 465.76 1599.2)" font-size="72.6">0</text>
<text transform="matrix(0.8525 0 0 1.0000 362.74 1405.62)" font-size="72.6">1000</text>
<text transform="matrix(0.8647 0 0 1.0000 360.79 1212.04)" font-size="72.6">2000</text>
<text transform="matrix(0.8598 0 0 1.0000 361.57 1018.46)" font-size="72.6">3000</text>
<text transform="matrix(0.8538 0 0 1.0000 362.53 824.88)" font-size="72.6">4000</text>
<text transform="matrix(0.8606 0 0 1.0000 361.45 631.3)" font-size="72.6">5000</text>
<text transform="matrix(0.8649 0 0 1.0000 360.76 437.72)" font-size="72.6">6000</text>
<text transform="matrix(0.8683 0 0 1.0000 566.25 1651)" font-size="72.6">90</text>
<text transform="matrix(0.8561 0 0 1.0000 805.57 1651)" font-size="72.6">18</text>
<text transform="matrix(0.7827 0 0 1.0000 1190.97 1651)" font-size="72.6">1</text>
<text transform="matrix(0.8969 0 0 1.0000 1663.06 1651)" font-size="72.6">0.2</text>
<text transform="matrix(0.8948 0 0 1.0000 2290.96 1651)" font-size="72.6">0.1</text>
<text transform="matrix(0.8879 0 0 1.0000 2761.78 1651)" font-size="72.6">0.07</text>
</g>
<g fill="none" stroke="#000" stroke-width="2.4">
<circle cx="649.5" cy="1610.2" r="9.2"/>
<circle cx="886.5" cy="1610.2" r="9.2"/>
<circle cx="1237.9" cy="1610.2" r="9.2"/>
<circle cx="1767.5" cy="1610.2" r="9.2"/>
<circle cx="2394.3" cy="1610.2" r="9.2"/>
<circle cx="2899.8" cy="1610.2" r="9.2"/>
</g>
<g font-family="Liberation Sans, sans-serif" fill="#000" transform="translate(220 0) rotate(-90)">
<text transform="matrix(0.8678 0 0 0.9131 -1593.33 0)" font-size="100" stroke="#000" stroke-width="0.7">T</text>
<text transform="matrix(0.8284 0 0 0.8521 -1543.7 0)" font-size="100" stroke="#000" stroke-width="0.7">e</text>
<text transform="matrix(0.8587 0 0 0.8521 -1501.29 0)" font-size="100" stroke="#000" stroke-width="0.7">m</text>
<text transform="matrix(0.8577 0 0 0.8521 -1428.11 0)" font-size="100" stroke="#000" stroke-width="0.7">p</text>
<text transform="matrix(0.8582 0 0 0.8521 -1379.63 0)" font-size="100" stroke="#000" stroke-width="0.7">e</text>
<text transform="matrix(0.9908 0 0 0.8521 -1331.76 0)" font-size="100" stroke="#000" stroke-width="0.7">r</text>
<text transform="matrix(0.7976 0 0 0.8521 -1301.07 0)" font-size="100" stroke="#000" stroke-width="0.7">a</text>
<text transform="matrix(0.8290 0 0 0.8843 -1253.04 0)" font-size="100" stroke="#000" stroke-width="0.7">t</text>
<text transform="matrix(0.8326 0 0 0.8521 -1227.69 0)" font-size="100" stroke="#000" stroke-width="0.7">u</text>
<text transform="matrix(0.8908 0 0 0.8521 -1180.2 0)" font-size="100" stroke="#000" stroke-width="0.7">r</text>
<text transform="matrix(0.8475 0 0 0.8521 -1150.69 0)" font-size="100" stroke="#000" stroke-width="0.7">e</text>
<text transform="matrix(0.8399 0 0 0.8766 -1078.47 0)" font-size="100" stroke="#000" stroke-width="0.7">f</text>
<text transform="matrix(0.7930 0 0 0.8766 -1053.13 0)" font-size="100" stroke="#000" stroke-width="0.7">l</text>
<text transform="matrix(0.8844 0 0 0.8521 -1035.03 0)" font-size="100" stroke="#000" stroke-width="0.7">u</text>
<text transform="matrix(0.8575 0 0 0.8521 -984.93 0)" font-size="100" stroke="#000" stroke-width="0.7">c</text>
<text transform="matrix(0.8721 0 0 0.8843 -941.81 0)" font-size="100" stroke="#000" stroke-width="0.7">t</text>
<text transform="matrix(0.8326 0 0 0.8521 -916.49 0)" font-size="100" stroke="#000" stroke-width="0.7">u</text>
<text transform="matrix(0.7742 0 0 0.8521 -867.47 0)" font-size="100" stroke="#000" stroke-width="0.7">a</text>
<text transform="matrix(0.8721 0 0 0.8843 -820.71 0)" font-size="100" stroke="#000" stroke-width="0.7">t</text>
<rect x="-790.3" y="-45.3" width="7.6" height="45.3"/>
<rect x="-790.3" y="-62.7" width="7.6" height="8.7"/>
<text transform="matrix(0.8868 0 0 0.8521 -777.31 0)" font-size="100" stroke="#000" stroke-width="0.7">o</text>
<text transform="matrix(0.8326 0 0 0.8521 -726.81 0)" font-size="100" stroke="#000" stroke-width="0.7">n</text>
<text transform="matrix(0.8364 0 0 0.8521 -678.91 0)" font-size="100" stroke="#000" stroke-width="0.7">s</text>
<text transform="matrix(0.8806 0 0 0.8733 -612.18 -0.12)" font-size="100">[</text>
<text transform="matrix(0.8806 0 0 0.8733 -367.79 -0.12)" font-size="100">]</text>
<text transform="matrix(0.8366 0 0 0.9288 -486.26 0.5)" font-size="100">K</text>
<text transform="matrix(0.5751 0 0 0.6302 -422.29 -44.9)" font-size="100">2</text>
</g>
<g fill="none" stroke="#000" stroke-linecap="round" stroke-linejoin="round">
<path stroke-width="6.6" d="M176.2 542.5L239.6 559"/>
<path stroke-width="6.6" d="M177 513.3L211 521.7"/>
<path stroke-width="2.5" d="M208 521C221.5 524 223 515 217.5 510.3C214 507.6 209 506.4 204.6 505.6"/>
<path stroke-width="2.6" d="M209 523.3C215 527.5 220.6 534.5 219.7 542C219.2 546 217.6 549 215.5 551"/>
</g>
<path fill="#000" d="M201.7 545.6C207 548 213 547.6 216.3 544.3L219.6 540.5L218 551L201 547Z"/>
<path fill="#000" d="M206 517.3L213.5 519.3C216.8 519.3 219.3 517.2 220 513.8L221.4 516.5C220.6 521.5 216.5 525.3 211 524.5L206 523.2Z"/>
<path fill="#000" fill-rule="nonzero" d="M2013.01 224.9 L2013.84 224.16 L2014.66 223.42 L2015.49 222.67 L2016.32 221.91 L2017.15 221.16 L2017.98 220.4 L2018.81 219.63 L2019.64 218.87 L2020.47 218.1 L2021.29 217.32 L2022.12 216.54 L2022.94 215.76 L2023.77 214.97 L2024.58 214.17 L2025.4 213.37 L2026.21 212.57 L2027.02 211.76 L2027.82 210.95 L2028.62 210.13 L2029.41 209.3 L2030.2 208.47 L2030.97 207.64 L2031.75 206.79 L2032.51 205.94 L2033.27 205.09 L2034.02 204.23 L2034.76 203.36 L2035.49 202.48 L2036.22 201.6 L2036.93 200.71 L2037.63 199.82 L2038.32 198.91 L2039.01 198 L2039.67 197.08 L2040.33 196.15 L2040.98 195.22 L2041.61 194.28 L2042.23 193.32 L2042.83 192.37 L2043.42 191.4 L2044 190.42 L2044.56 189.43 L2045.11 188.44 L2045.64 187.43 L2046.15 186.42 L2046.65 185.39 L2047.13 184.36 L2047.59 183.32 L2048.03 182.26 L2048.46 181.2 L2048.87 180.13 L2049.25 179.04 L2049.62 177.94 L2049.97 176.84 L2050.29 175.72 L2050.6 174.59 L2050.88 173.45 L2051.14 172.3 L2051.38 171.14 L2051.6 169.96 L2051.78 168.75 L2051.89 167.49 L2051.88 166.21 L2051.71 164.9 L2051.31 163.59 L2050.65 162.36 L2049.7 161.28 L2048.45 160.48 L2047.07 160.04 L2045.67 159.9 L2044.3 160.01 L2043 160.35 L2041.81 160.88 L2040.7 161.56 L2039.68 162.36 L2038.73 163.24 L2037.86 164.17 L2037.04 165.13 L2036.27 166.08 L2035.54 167.04 L2034.84 168 L2034.17 168.96 L2033.53 169.93 L2032.91 170.9 L2032.31 171.88 L2031.73 172.86 L2031.17 173.84 L2030.62 174.84 L2030.08 175.85 L2029.56 176.86 L2029.05 177.89 L2028.55 178.92 L2028.07 179.96 L2027.61 181.01 L2027.15 182.07 L2026.72 183.13 L2026.29 184.21 L2025.88 185.28 L2025.49 186.37 L2025.1 187.46 L2024.74 188.56 L2024.38 189.66 L2024.04 190.76 L2023.71 191.88 L2023.4 192.99 L2023.1 194.11 L2022.82 195.24 L2022.54 196.37 L2022.29 197.5 L2022.04 198.64 L2021.81 199.78 L2021.59 200.92 L2021.38 202.07 L2021.19 203.21 L2021.01 204.36 L2020.85 205.52 L2020.69 206.67 L2020.55 207.82 L2020.42 208.99 L2020.31 210.16 L2020.22 211.34 L2020.14 212.53 L2020.1 213.73 L2020.09 214.93 L2020.11 216.13 L2020.18 217.34 L2020.29 218.55 L2020.45 219.75 L2020.66 220.95 L2020.93 222.14 L2021.26 223.31 L2021.66 224.48 L2022.13 225.62 L2022.67 226.74 L2023.29 227.84 L2023.98 228.9 L2024.76 229.94 L2025.63 230.91 L2026.59 231.79 L2027.65 232.55 L2028.82 233.15 L2030.08 233.55 L2031.43 233.7 L2032.77 233.63 L2034.07 233.39 L2035.32 233.02 L2036.49 232.57 L2037.6 232.04 L2038.65 231.45 L2039.64 230.81 L2040.59 230.14 L2041.51 229.44 L2042.41 228.73 L2043.28 228.01 L2044.16 227.31 L2045.03 226.62 L2045.91 225.96 L2046.8 225.34 L2047.72 224.76 L2046.57 222.88 L2045.58 223.53 L2044.63 224.21 L2043.7 224.91 L2042.8 225.62 L2041.92 226.32 L2041.04 227.01 L2040.17 227.69 L2039.29 228.33 L2038.4 228.93 L2037.49 229.48 L2036.55 229.97 L2035.58 230.41 L2034.58 230.77 L2033.53 231.05 L2032.51 231.21 L2031.56 231.21 L2030.74 231.03 L2030.01 230.69 L2029.35 230.19 L2028.75 229.55 L2028.2 228.8 L2027.72 227.95 L2027.3 227.03 L2026.93 226.08 L2026.64 225.12 L2026.4 224.17 L2026.22 223.21 L2026.09 222.25 L2026.01 221.29 L2025.98 220.31 L2025.98 219.33 L2026.02 218.35 L2026.09 217.35 L2026.2 216.34 L2026.33 215.32 L2026.49 214.29 L2026.67 213.25 L2026.86 212.2 L2027.08 211.13 L2027.3 210.06 L2027.54 208.98 L2027.77 207.89 L2028.02 206.81 L2028.26 205.73 L2028.51 204.65 L2028.76 203.57 L2029.02 202.5 L2029.28 201.43 L2029.55 200.36 L2029.81 199.29 L2030.09 198.22 L2030.36 197.16 L2030.64 196.1 L2030.93 195.04 L2031.21 193.98 L2031.51 192.93 L2031.8 191.88 L2032.1 190.83 L2032.4 189.79 L2032.71 188.74 L2033.03 187.7 L2033.34 186.66 L2033.66 185.63 L2033.99 184.6 L2034.32 183.57 L2034.65 182.54 L2034.99 181.51 L2035.34 180.49 L2035.69 179.47 L2036.04 178.45 L2036.4 177.44 L2036.77 176.43 L2037.14 175.42 L2037.51 174.41 L2037.89 173.41 L2038.28 172.42 L2038.69 171.43 L2039.11 170.44 L2039.55 169.45 L2040.03 168.46 L2040.53 167.47 L2041.05 166.52 L2041.6 165.63 L2042.18 164.82 L2042.8 164.11 L2043.45 163.53 L2044.14 163.08 L2044.89 162.77 L2045.72 162.63 L2046.59 162.67 L2047.37 162.89 L2047.98 163.27 L2048.48 163.84 L2048.87 164.59 L2049.14 165.45 L2049.28 166.39 L2049.3 167.39 L2049.23 168.45 L2049.09 169.56 L2048.91 170.68 L2048.7 171.8 L2048.48 172.9 L2048.23 174 L2047.95 175.08 L2047.66 176.16 L2047.34 177.23 L2047.01 178.28 L2046.65 179.33 L2046.28 180.37 L2045.88 181.39 L2045.47 182.41 L2045.03 183.42 L2044.58 184.42 L2044.11 185.42 L2043.62 186.4 L2043.12 187.38 L2042.6 188.34 L2042.06 189.3 L2041.51 190.25 L2040.94 191.2 L2040.36 192.13 L2039.76 193.06 L2039.15 193.98 L2038.52 194.89 L2037.88 195.8 L2037.23 196.7 L2036.57 197.59 L2035.9 198.47 L2035.21 199.35 L2034.51 200.22 L2033.81 201.09 L2033.09 201.94 L2032.36 202.8 L2031.62 203.64 L2030.88 204.48 L2030.13 205.32 L2029.37 206.15 L2028.6 206.97 L2027.82 207.79 L2027.04 208.6 L2026.25 209.41 L2025.46 210.21 L2024.66 211.01 L2023.86 211.81 L2023.05 212.6 L2022.24 213.38 L2021.42 214.16 L2020.61 214.94 L2019.78 215.71 L2018.96 216.48 L2018.14 217.25 L2017.31 218.01 L2016.49 218.77 L2015.66 219.53 L2014.83 220.28 L2014.01 221.04 L2013.18 221.79 L2012.36 222.53 L2011.54 223.28 Z"/>
</svg>
</body></html>
